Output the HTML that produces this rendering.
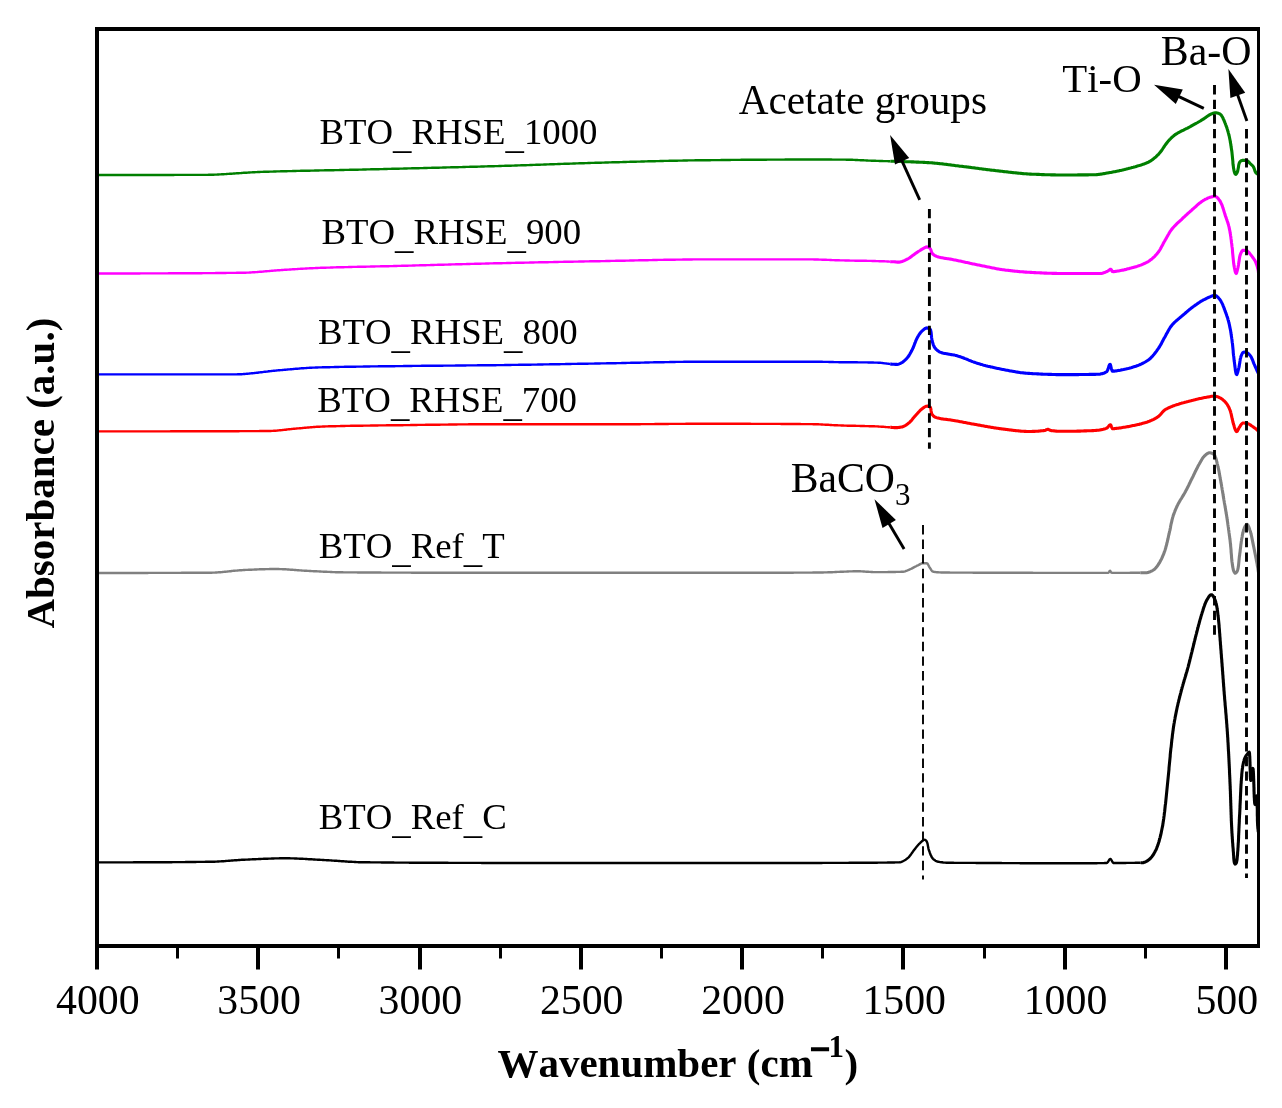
<!DOCTYPE html>
<html lang="en">
<head>
<meta charset="utf-8">
<title>FTIR absorbance spectra</title>
<style>
html,body{margin:0;padding:0;background:#fff}
body{width:1282px;height:1108px;overflow:hidden}
svg{display:block}
</style>
</head>
<body>
<svg width="1282" height="1108" viewBox="0 0 1282 1108" role="img" aria-label="FTIR absorbance spectra of BTO samples">
<rect width="1282" height="1108" fill="#fff"/>
<g fill="none" stroke-linejoin="round" stroke-linecap="butt">
<path d="M98.6 862.4L99.6 862.4L100.6 862.4L101.6 862.4L102.6 862.4L103.6 862.4L104.6 862.4L105.6 862.4L106.6 862.4L107.6 862.4L108.6 862.4L109.6 862.4L110.6 862.4L111.6 862.4L112.6 862.4L113.6 862.4L114.6 862.4L115.6 862.4L116.6 862.4L117.6 862.4L118.6 862.4L119.6 862.4L120.6 862.4L121.6 862.4L122.6 862.4L123.6 862.4L124.6 862.4L125.6 862.4L126.6 862.4L127.7 862.4L128.7 862.4L129.7 862.4L130.7 862.4L131.7 862.4L132.7 862.4L133.7 862.3L134.7 862.3L135.7 862.3L136.7 862.3L137.7 862.3L138.7 862.3L139.7 862.3L140.7 862.3L141.7 862.3L142.7 862.3L143.7 862.3L144.7 862.3L145.7 862.3L146.7 862.3L147.7 862.3L148.7 862.3L149.7 862.3L150.7 862.3L151.7 862.3L152.7 862.3L153.7 862.3L154.7 862.3L155.7 862.3L156.7 862.2L157.7 862.2L158.7 862.2L159.7 862.2L160.7 862.2L161.7 862.2L162.7 862.2L163.7 862.2L164.7 862.2L165.7 862.2L166.7 862.2L167.7 862.2L168.7 862.2L169.7 862.2L170.7 862.2L171.7 862.2L172.7 862.1L173.7 862.1L174.7 862.1L175.7 862.1L176.7 862.1L177.7 862.1L178.7 862.1L179.7 862.1L180.7 862.1L181.7 862.1L182.7 862.1L183.7 862.1L184.7 862.1L185.7 862.0L186.7 862.0L187.7 862.0L188.7 862.0L189.7 862.0L190.7 862.0L191.7 862.0L192.7 862.0L193.7 862.0L194.7 862.0L195.7 862.0L196.7 861.9L197.7 861.9L198.7 861.9L199.7 861.9L200.7 861.9L201.7 861.9L202.7 861.9L203.7 861.9L204.7 861.9L205.7 861.8L206.7 861.8L207.7 861.8L208.7 861.8L209.7 861.8L210.7 861.8L211.7 861.8L212.7 861.7L213.7 861.7L214.7 861.7L215.7 861.6L216.7 861.6L217.7 861.5L218.7 861.5L219.7 861.4L220.7 861.4L221.7 861.3L222.7 861.2L223.7 861.2L224.7 861.1L225.7 861.0L226.7 860.9L227.7 860.9L228.7 860.8L229.7 860.7L230.7 860.6L231.7 860.5L232.7 860.5L233.7 860.4L234.7 860.3L235.7 860.2L236.7 860.2L237.7 860.1L238.7 860.0L239.7 860.0L240.7 859.9L241.7 859.8L242.7 859.8L243.7 859.7L244.7 859.7L245.7 859.6L246.6 859.6L247.6 859.6L248.6 859.5L249.6 859.5L250.6 859.4L251.6 859.4L252.6 859.3L253.6 859.3L254.6 859.2L255.6 859.2L256.7 859.1L257.7 859.1L258.7 859.0L259.7 859.0L260.7 859.0L261.7 858.9L262.7 858.9L263.7 858.8L264.7 858.8L265.7 858.7L266.7 858.7L267.7 858.7L268.7 858.6L269.7 858.6L270.7 858.6L271.7 858.5L272.7 858.5L273.7 858.5L274.7 858.4L275.7 858.4L276.7 858.4L277.7 858.4L278.7 858.4L279.7 858.3L280.7 858.3L281.7 858.3L282.7 858.3L283.7 858.3L284.7 858.3L285.7 858.3L286.7 858.3L287.7 858.3L288.7 858.3L289.7 858.3L290.7 858.4L291.7 858.4L292.7 858.4L293.7 858.4L294.7 858.5L295.7 858.5L296.7 858.5L297.7 858.6L298.7 858.6L299.7 858.7L300.7 858.7L301.7 858.8L302.7 858.8L303.7 858.9L304.7 858.9L305.7 859.0L306.7 859.0L307.7 859.1L308.7 859.2L309.7 859.2L310.7 859.3L311.7 859.3L312.7 859.4L313.7 859.5L314.7 859.5L315.7 859.6L316.7 859.6L317.7 859.7L318.7 859.7L319.7 859.8L320.7 859.9L321.7 859.9L322.7 860.0L323.7 860.0L324.7 860.1L325.7 860.1L326.7 860.2L327.6 860.2L328.6 860.3L329.6 860.4L330.6 860.4L331.6 860.5L332.6 860.6L333.6 860.6L334.6 860.7L335.6 860.8L336.6 860.8L337.6 860.9L338.6 861.0L339.6 861.0L340.6 861.1L341.6 861.2L342.6 861.3L343.6 861.3L344.6 861.4L345.6 861.5L346.6 861.5L347.6 861.6L348.6 861.7L349.6 861.7L350.6 861.8L351.6 861.8L352.6 861.9L353.6 861.9L354.6 862.0L355.6 862.0L356.6 862.1L357.6 862.1L358.6 862.2L359.6 862.2L360.6 862.2L361.6 862.3L362.6 862.3L363.6 862.3L364.6 862.3L365.6 862.3L366.6 862.3L367.6 862.3L368.6 862.3L369.6 862.3L370.6 862.4L371.6 862.4L372.6 862.4L373.6 862.4L374.6 862.4L375.6 862.4L376.6 862.4L377.6 862.4L378.6 862.4L379.6 862.4L380.6 862.4L381.6 862.5L382.6 862.5L383.6 862.5L384.6 862.5L385.6 862.5L386.6 862.5L387.6 862.5L388.6 862.5L389.6 862.5L390.6 862.5L391.6 862.5L392.6 862.5L393.6 862.5L394.6 862.6L395.6 862.6L396.6 862.6L397.6 862.6L398.6 862.6L399.6 862.6L400.6 862.6L401.6 862.6L402.6 862.6L403.6 862.6L404.6 862.6L405.6 862.6L406.6 862.6L407.6 862.6L408.6 862.6L409.6 862.7L410.6 862.7L411.6 862.7L412.6 862.7L413.6 862.7L414.6 862.7L415.6 862.7L416.6 862.7L417.6 862.7L418.6 862.7L419.6 862.7L420.6 862.7L421.6 862.7L422.6 862.7L423.6 862.7L424.6 862.7L425.6 862.7L426.6 862.8L427.6 862.8L428.6 862.8L429.6 862.8L430.7 862.8L431.7 862.8L432.7 862.8L433.7 862.8L434.7 862.8L435.7 862.8L436.7 862.8L437.7 862.8L438.7 862.8L439.7 862.8L440.7 862.8L441.7 862.8L442.7 862.8L443.7 862.8L444.7 862.8L445.7 862.8L446.7 862.8L447.7 862.8L448.7 862.9L449.7 862.9L450.7 862.9L451.7 862.9L452.7 862.9L453.7 862.9L454.7 862.9L455.7 862.9L456.7 862.9L457.7 862.9L458.7 862.9L459.7 862.9L460.7 862.9L461.7 862.9L462.7 862.9L463.7 862.9L464.7 862.9L465.7 862.9L466.7 862.9L467.7 862.9L468.7 862.9L469.7 862.9L470.7 862.9L471.7 862.9L472.7 862.9L473.7 862.9L474.7 862.9L475.7 862.9L476.7 862.9L477.7 862.9L478.7 862.9L479.7 862.9L480.7 862.9L481.7 863.0L482.7 863.0L483.7 863.0L484.7 863.0L485.7 863.0L486.7 863.0L487.7 863.0L488.7 863.0L489.7 863.0L490.7 863.0L491.7 863.0L492.7 863.0L493.7 863.0L494.7 863.0L495.7 863.0L496.7 863.0L497.7 863.0L498.7 863.0L499.7 863.0L500.7 863.0L501.7 863.0L502.7 863.0L503.7 863.0L504.7 863.0L505.7 863.0L506.7 863.0L507.7 863.0L508.7 863.0L509.7 863.0L510.7 863.0L511.7 863.0L512.7 863.0L513.7 863.0L514.7 863.0L515.7 863.0L516.7 863.0L517.7 863.0L518.7 863.0L519.7 863.0L520.7 863.0L521.7 863.0L522.7 863.0L523.7 863.0L524.7 863.0L525.7 863.0L526.7 863.0L527.7 863.0L528.8 863.0L529.8 863.0L530.8 863.0L531.8 863.0L532.8 863.0L533.8 863.0L534.8 863.0L535.8 863.0L536.8 863.0L537.8 863.0L538.8 863.0L539.8 863.0L540.8 863.0L541.8 863.0L542.8 863.0L543.8 863.0L544.8 863.0L545.8 863.0L546.8 863.0L547.8 863.0L548.8 863.0L549.8 863.0L550.8 863.0L551.8 863.0L552.8 863.0L553.8 863.0L554.8 863.0L555.8 863.0L556.8 863.0L557.8 863.0L558.8 863.0L559.8 863.0L560.8 863.0L561.8 863.0L562.8 863.0L563.8 863.0L564.8 863.0L565.8 863.0L566.8 863.0L567.8 863.0L568.8 863.0L569.8 863.0L570.8 863.0L571.8 863.0L572.8 863.0L573.8 863.0L574.8 863.0L575.8 863.0L576.8 863.0L577.8 863.0L578.8 863.0L579.8 863.0L580.8 863.0L581.8 863.0L582.8 863.0L583.8 863.0L584.8 863.0L585.8 863.0L586.8 863.0L587.8 863.0L588.8 863.0L589.8 863.0L590.8 863.0L591.8 863.0L592.8 863.0L593.8 863.0L594.8 863.0L595.8 863.0L596.8 863.0L597.8 863.0L598.8 863.0L599.8 863.0L600.8 863.0L601.8 863.0L602.8 863.0L603.8 863.0L604.8 863.0L605.8 863.0L606.8 863.0L607.8 863.0L608.8 863.0L609.8 863.0L610.8 863.0L611.8 863.0L612.8 863.0L613.8 863.0L614.8 863.0L615.8 863.0L616.8 863.0L617.8 863.0L618.8 863.0L619.8 863.0L620.8 863.0L621.8 863.0L622.8 863.0L623.8 863.0L624.8 863.0L625.8 863.0L626.8 863.0L627.8 863.0L628.8 863.0L629.8 863.0L630.8 863.0L631.8 863.0L632.8 863.0L633.8 863.0L634.8 863.0L635.8 863.0L636.8 863.0L637.8 863.0L638.8 863.0L639.8 863.0L640.8 863.0L641.8 863.0L642.8 863.0L643.8 863.0L644.8 863.0L645.8 863.0L646.8 863.0L647.8 863.0L648.8 863.0L649.8 863.0L650.8 863.0L651.8 863.0L652.8 863.0L653.9 863.0L654.9 863.0L655.9 863.0L656.9 863.0L657.9 863.0L658.9 863.0L659.9 863.0L660.9 863.0L661.9 863.0L662.9 863.0L663.9 863.0L664.9 863.0L665.9 863.0L666.9 863.0L667.9 863.0L668.9 863.0L669.9 863.0L670.9 863.0L671.9 863.0L672.9 863.0L673.9 863.0L674.9 863.0L675.9 863.0L676.9 863.0L677.9 863.0L678.9 863.0L679.9 863.0L680.9 863.0L681.9 863.0L682.9 863.0L683.9 863.0L684.9 863.0L685.9 863.0L686.9 863.0L687.9 863.0L688.9 863.0L689.9 863.0L690.9 863.0L691.9 863.0L692.9 863.0L693.9 863.0L694.9 863.0L695.9 863.0L696.9 863.0L697.9 863.0L698.9 863.0L699.9 863.0L700.9 863.0L701.9 863.0L702.9 863.0L703.9 863.0L704.9 863.0L705.9 863.0L706.9 863.0L707.9 863.0L708.9 863.0L709.9 863.0L710.9 863.0L711.9 863.0L712.9 863.0L713.9 863.0L714.9 863.0L715.9 863.0L716.9 863.0L717.9 863.0L718.9 863.0L719.9 863.0L720.9 863.0L721.9 863.0L722.9 863.0L723.9 863.0L724.9 863.0L725.9 863.0L726.9 863.0L727.9 863.0L728.9 863.0L729.9 863.0L730.9 863.0L731.9 863.0L732.9 863.0L733.9 863.0L734.9 863.0L735.9 863.0L736.9 863.0L737.9 863.0L738.9 863.0L739.9 863.0L740.9 863.0L741.9 863.0L742.9 863.0L743.9 863.0L744.9 863.0L745.9 863.0L746.9 863.0L747.9 863.0L748.9 863.0L749.9 863.0L750.9 863.0L751.9 863.0L752.9 863.0L753.9 863.0L754.9 863.0L755.9 863.0L756.9 863.0L757.9 863.0L758.9 863.0L759.9 863.0L760.9 863.0L761.9 863.0L762.9 863.0L763.9 863.0L764.9 863.0L765.9 863.0L766.9 863.0L767.9 863.0L768.9 863.0L769.9 863.0L770.9 863.0L771.9 863.0L772.9 863.0L773.9 863.0L775.0 863.0L776.0 863.0L777.0 863.0L778.0 863.0L779.0 863.0L780.0 863.0L781.0 863.0L782.0 863.0L783.0 863.0L784.0 863.0L785.0 863.0L786.0 863.0L787.1 863.0L788.1 863.0L789.1 863.0L790.1 863.0L791.1 863.0L792.1 863.0L793.2 863.0L794.2 863.0L795.2 863.0L796.2 863.0L797.2 863.0L798.3 863.0L799.3 863.0L800.3 863.0L801.3 863.0L802.3 863.0L803.4 863.0L804.4 863.0L805.4 863.0L806.4 863.0L807.4 863.0L808.5 863.0L809.5 863.0L810.5 863.0L811.5 863.0L812.6 863.0L813.6 863.0L814.6 863.0L815.6 863.0L816.7 863.0L817.7 863.0L818.7 863.0L819.7 863.0L820.7 863.0L821.8 863.0L822.8 862.9L823.8 862.9L824.8 862.9L825.9 862.9L826.9 862.9L827.9 862.9L828.9 862.9L829.9 862.9L831.0 862.9L832.0 862.9L833.0 862.9L834.0 862.9L835.0 862.9L836.1 862.9L837.1 862.9L838.1 862.9L839.1 862.9L840.1 862.9L841.1 862.9L842.2 862.9L843.2 862.9L844.2 862.9L845.2 862.9L846.2 862.9L847.2 862.9L848.2 862.9L849.2 862.8L850.2 862.8L851.3 862.8L852.3 862.8L853.3 862.8L854.3 862.8L855.3 862.8L856.3 862.8L857.3 862.8L858.3 862.8L859.3 862.8L860.3 862.8L861.3 862.8L862.3 862.8L863.3 862.8L864.3 862.8L865.3 862.8L866.3 862.7L867.2 862.7L868.2 862.7L869.2 862.7L870.2 862.7L871.2 862.7L872.2 862.7L873.2 862.7L874.1 862.7L875.1 862.7L876.1 862.7L877.1 862.7L878.0 862.6L879.0 862.6L880.0 862.6L881.0 862.6L881.9 862.6L882.9 862.6L883.9 862.6L884.8 862.6L885.8 862.6L886.7 862.6L887.7 862.5L888.7 862.5L889.6 862.5L890.6 862.5L891.5 862.5L892.5 862.5L893.4 862.5L894.4 862.5L895.3 862.4L896.2 862.4L897.2 862.4L898.1 862.4L899.0 862.4L900.0 862.3L900.9 862.1L901.9 861.7L902.8 861.3L903.8 860.8L904.7 860.3L905.6 859.7L906.4 859.1L907.2 858.5L907.9 857.9L908.6 857.3L909.3 856.6L909.9 855.8L910.5 855.0L911.1 854.2L911.7 853.3L912.3 852.5L912.9 851.6L913.5 850.8L914.1 850.0L914.7 849.2L915.4 848.4L916.0 847.6L916.6 846.8L917.3 846.0L917.9 845.3L918.6 844.5L919.2 843.8L920.0 843.1L920.7 842.4L921.5 841.7L922.3 841.0L923.2 840.3L924.0 839.9L924.9 839.8L925.8 840.3L926.5 841.1L926.9 841.8L927.2 842.7L927.5 843.6L927.7 844.6L927.9 845.7L928.1 846.7L928.3 847.8L928.5 848.8L928.8 849.8L929.1 850.8L929.5 851.7L929.8 852.7L930.2 853.7L930.5 854.7L931.0 855.6L931.4 856.5L931.9 857.3L932.4 858.1L933.0 858.8L933.8 859.5L934.6 860.1L935.5 860.7L936.4 861.2L937.3 861.5L938.3 861.7L939.2 861.9L940.2 862.1L941.1 862.2L942.1 862.3L943.2 862.5L944.2 862.6L945.2 862.6L946.2 862.7L947.2 862.8L948.3 862.8L949.3 862.8L950.3 862.8L951.3 862.8L952.3 862.8L953.3 862.8L954.3 862.9L955.3 862.9L956.2 862.9L957.2 862.9L958.2 862.9L959.2 862.9L960.2 862.9L961.2 862.9L962.2 862.9L963.3 862.9L964.3 862.9L965.3 862.9L966.3 862.9L967.3 862.9L968.3 862.9L969.3 862.9L970.3 862.9L971.3 862.9L972.3 862.9L973.3 862.9L974.3 862.9L975.3 862.9L976.3 863.0L977.3 863.0L978.3 863.0L979.3 863.0L980.3 863.0L981.3 863.0L982.3 863.0L983.3 863.0L984.3 863.0L985.3 863.0L986.3 863.0L987.3 863.0L988.3 863.0L989.3 863.0L990.3 863.0L991.3 863.0L992.3 863.0L993.3 863.0L994.3 863.0L995.3 863.0L996.3 863.0L997.3 863.0L998.3 863.0L999.3 863.0L1000.3 863.0L1001.3 863.0L1002.3 863.1L1003.3 863.1L1004.3 863.1L1005.3 863.1L1006.3 863.1L1007.3 863.1L1008.3 863.1L1009.3 863.1L1010.3 863.1L1011.3 863.1L1012.3 863.1L1013.3 863.1L1014.3 863.1L1015.3 863.1L1016.3 863.1L1017.3 863.1L1018.3 863.1L1019.3 863.1L1020.3 863.2L1021.3 863.2L1022.3 863.2L1023.3 863.2L1024.3 863.2L1025.3 863.2L1026.3 863.2L1027.3 863.2L1028.3 863.2L1029.3 863.2L1030.3 863.2L1031.3 863.2L1032.3 863.2L1033.3 863.2L1034.3 863.2L1035.3 863.2L1036.3 863.2L1037.3 863.2L1038.3 863.2L1039.3 863.2L1040.3 863.3L1041.3 863.3L1042.3 863.3L1043.3 863.3L1044.3 863.3L1045.3 863.3L1046.3 863.3L1047.3 863.3L1048.3 863.3L1049.3 863.3L1050.3 863.3L1051.3 863.3L1052.3 863.3L1053.3 863.3L1054.3 863.3L1055.3 863.3L1056.3 863.3L1057.3 863.3L1058.3 863.3L1059.3 863.3L1060.3 863.3L1061.3 863.3L1062.4 863.3L1063.4 863.3L1064.4 863.3L1065.4 863.3L1066.4 863.3L1067.5 863.3L1068.5 863.3L1069.6 863.3L1070.6 863.3L1071.7 863.3L1072.8 863.3L1073.9 863.3L1074.9 863.3L1076.0 863.3L1077.1 863.3L1078.2 863.3L1079.2 863.3L1080.3 863.3L1081.4 863.3L1082.5 863.3L1083.5 863.3L1084.6 863.3L1085.6 863.2L1086.7 863.2L1087.8 863.2L1088.8 863.2L1089.8 863.2L1090.9 863.2L1091.9 863.2L1092.9 863.2L1093.9 863.2L1094.9 863.2L1095.8 863.2L1096.8 863.2L1097.8 863.1L1098.7 863.1L1099.6 863.1L1100.5 863.1L1101.4 863.1L1102.3 863.1L1103.2 863.1L1104.0 863.1L1104.8 863.0L1105.6 863.0L1106.4 863.0L1107.2 862.8L1107.9 862.0L1108.6 860.9L1109.2 859.9L1109.9 859.1L1110.5 858.9L1111.1 859.5L1111.7 860.5L1112.3 861.7L1112.9 862.6L1113.5 863.0L1114.3 863.0L1115.1 863.0L1115.9 863.0L1116.7 863.0L1117.6 863.0L1118.5 863.0L1119.5 863.0L1120.5 863.0L1121.5 863.0L1122.5 863.0L1123.5 863.0L1124.6 863.0L1125.6 863.0L1126.7 862.9L1127.8 862.9L1128.9 862.9L1130.0 862.9L1131.1 862.9L1132.2 862.9L1133.3 862.9L1134.4 862.9L1135.5 862.8L1136.6 862.8L1137.6 862.8L1138.6 862.8L1139.7 862.8L1140.7 862.7" stroke="#000000" stroke-width="2.4"/>
<path d="M1140.7 862.7L1141.6 862.7L1142.6 862.7L1143.5 862.6L1144.5 862.3L1145.4 861.9L1146.4 861.4L1147.3 860.9L1148.1 860.3L1148.9 859.7L1149.7 859.1L1150.4 858.4L1151.0 857.7L1151.7 857.0L1152.3 856.1L1152.9 855.3L1153.5 854.4L1154.0 853.5L1154.5 852.6L1155.0 851.7L1155.4 850.8L1155.9 850.0L1156.3 849.1L1156.7 848.1L1157.0 847.2L1157.4 846.3L1157.7 845.3L1158.1 844.4L1158.4 843.4L1158.7 842.4L1159.0 841.5L1159.3 840.5L1159.5 839.5L1159.8 838.6L1160.1 837.6L1160.3 836.7L1160.5 835.7L1160.8 834.7L1161.0 833.7L1161.2 832.8L1161.4 831.8L1161.6 830.8L1161.8 829.8L1162.0 828.8L1162.2 827.8L1162.4 826.9L1162.6 825.9L1162.8 824.9L1162.9 823.9L1163.1 822.9L1163.2 821.9L1163.4 820.9L1163.5 819.9L1163.7 819.0L1163.8 818.0L1163.9 817.0L1164.1 816.0L1164.2 815.0L1164.3 814.0L1164.4 813.0L1164.6 812.0L1164.7 811.0L1164.8 810.0L1164.9 809.0L1165.0 808.0L1165.1 807.0L1165.2 806.0L1165.3 805.0L1165.5 804.0L1165.6 803.0L1165.7 802.1L1165.8 801.1L1165.9 800.1L1166.0 799.1L1166.1 798.1L1166.2 797.1L1166.3 796.1L1166.4 795.1L1166.5 794.1L1166.6 793.1L1166.7 792.1L1166.8 791.1L1166.9 790.1L1167.0 789.1L1167.1 788.1L1167.2 787.1L1167.3 786.1L1167.4 785.1L1167.5 784.1L1167.6 783.1L1167.7 782.1L1167.8 781.1L1167.9 780.1L1168.0 779.2L1168.1 778.2L1168.2 777.2L1168.3 776.2L1168.4 775.2L1168.5 774.2L1168.6 773.2L1168.7 772.2L1168.8 771.2L1168.9 770.2L1169.0 769.2L1169.0 768.2L1169.1 767.2L1169.2 766.2L1169.3 765.2L1169.4 764.2L1169.5 763.2L1169.6 762.2L1169.7 761.2L1169.8 760.2L1169.9 759.2L1170.0 758.2L1170.1 757.2L1170.2 756.2L1170.2 755.2L1170.3 754.2L1170.4 753.2L1170.5 752.2L1170.6 751.3L1170.7 750.3L1170.8 749.3L1170.9 748.3L1171.1 747.3L1171.2 746.3L1171.3 745.3L1171.4 744.3L1171.5 743.3L1171.6 742.3L1171.7 741.3L1171.8 740.3L1171.9 739.3L1172.1 738.3L1172.2 737.3L1172.3 736.3L1172.4 735.3L1172.5 734.3L1172.7 733.3L1172.8 732.4L1172.9 731.4L1173.1 730.4L1173.2 729.4L1173.3 728.4L1173.5 727.4L1173.6 726.4L1173.8 725.4L1173.9 724.4L1174.1 723.5L1174.3 722.5L1174.4 721.5L1174.6 720.5L1174.8 719.5L1175.0 718.5L1175.1 717.5L1175.3 716.6L1175.5 715.6L1175.7 714.6L1175.9 713.6L1176.1 712.6L1176.3 711.6L1176.5 710.7L1176.7 709.7L1176.9 708.7L1177.1 707.7L1177.3 706.7L1177.6 705.8L1177.8 704.8L1178.0 703.8L1178.2 702.8L1178.5 701.9L1178.7 700.9L1178.9 699.9L1179.2 699.0L1179.4 698.0L1179.7 697.0L1179.9 696.0L1180.2 695.1L1180.4 694.1L1180.7 693.1L1180.9 692.2L1181.2 691.2L1181.4 690.2L1181.7 689.3L1182.0 688.3L1182.2 687.3L1182.5 686.4L1182.8 685.4L1183.0 684.4L1183.3 683.5L1183.6 682.5L1183.9 681.6L1184.1 680.6L1184.4 679.6L1184.7 678.7L1185.0 677.7L1185.3 676.8L1185.6 675.8L1185.9 674.8L1186.1 673.9L1186.4 672.9L1186.7 672.0L1187.0 671.0L1187.3 670.0L1187.5 669.1L1187.8 668.1L1188.1 667.1L1188.3 666.2L1188.6 665.2L1188.8 664.2L1189.1 663.3L1189.3 662.3L1189.6 661.3L1189.8 660.4L1190.0 659.4L1190.3 658.4L1190.5 657.4L1190.8 656.5L1191.0 655.5L1191.2 654.5L1191.5 653.6L1191.7 652.6L1192.0 651.6L1192.2 650.6L1192.4 649.7L1192.7 648.7L1192.9 647.7L1193.2 646.8L1193.4 645.8L1193.6 644.8L1193.9 643.8L1194.1 642.9L1194.3 641.9L1194.6 640.9L1194.8 640.0L1195.1 639.0L1195.3 638.0L1195.5 637.0L1195.8 636.1L1196.0 635.1L1196.3 634.1L1196.5 633.2L1196.8 632.2L1197.0 631.2L1197.3 630.2L1197.5 629.3L1197.8 628.3L1198.0 627.3L1198.3 626.4L1198.5 625.4L1198.8 624.4L1199.1 623.5L1199.3 622.5L1199.6 621.5L1199.8 620.6L1200.1 619.6L1200.4 618.6L1200.7 617.7L1200.9 616.7L1201.2 615.8L1201.5 614.8L1201.8 613.9L1202.1 612.9L1202.4 611.9L1202.7 611.0L1203.0 610.0L1203.3 609.0L1203.6 608.0L1203.9 607.1L1204.3 606.1L1204.6 605.2L1205.0 604.2L1205.3 603.3L1205.7 602.4L1206.1 601.5L1206.6 600.6L1207.0 599.8L1207.5 598.9L1208.2 597.8L1208.8 596.8L1209.5 595.9L1210.2 595.2L1210.9 594.8L1211.5 594.7L1212.1 595.0L1212.8 595.7L1213.4 596.5L1214.0 597.6L1214.5 598.7L1215.0 599.8L1215.4 600.9L1215.7 601.8L1215.9 602.7L1216.2 603.7L1216.4 604.6L1216.6 605.6L1216.8 606.6L1217.0 607.6L1217.1 608.6L1217.3 609.6L1217.4 610.6L1217.6 611.6L1217.7 612.6L1217.8 613.6L1217.9 614.6L1218.0 615.6L1218.2 616.6L1218.3 617.6L1218.4 618.6L1218.5 619.6L1218.6 620.6L1218.7 621.6L1218.8 622.6L1218.9 623.6L1219.0 624.6L1219.1 625.6L1219.1 626.6L1219.2 627.6L1219.3 628.6L1219.4 629.6L1219.5 630.6L1219.5 631.6L1219.6 632.6L1219.7 633.6L1219.8 634.6L1219.8 635.6L1219.9 636.6L1220.0 637.6L1220.1 638.6L1220.1 639.6L1220.2 640.6L1220.3 641.6L1220.4 642.6L1220.4 643.6L1220.5 644.6L1220.6 645.5L1220.7 646.5L1220.7 647.5L1220.8 648.5L1220.9 649.5L1221.0 650.5L1221.1 651.5L1221.1 652.5L1221.2 653.5L1221.3 654.5L1221.4 655.5L1221.4 656.5L1221.5 657.5L1221.6 658.5L1221.7 659.5L1221.8 660.5L1221.8 661.5L1221.9 662.5L1222.0 663.5L1222.1 664.5L1222.1 665.5L1222.2 666.5L1222.3 667.5L1222.4 668.5L1222.4 669.5L1222.5 670.5L1222.6 671.5L1222.7 672.5L1222.7 673.5L1222.8 674.5L1222.9 675.5L1223.0 676.5L1223.0 677.5L1223.1 678.5L1223.2 679.5L1223.3 680.5L1223.3 681.5L1223.4 682.5L1223.5 683.5L1223.6 684.5L1223.6 685.5L1223.7 686.5L1223.8 687.5L1223.9 688.5L1223.9 689.5L1224.0 690.5L1224.1 691.5L1224.2 692.5L1224.2 693.4L1224.3 694.4L1224.4 695.4L1224.5 696.4L1224.6 697.4L1224.6 698.4L1224.7 699.4L1224.8 700.4L1224.9 701.4L1225.0 702.4L1225.1 703.4L1225.1 704.4L1225.2 705.4L1225.3 706.4L1225.4 707.4L1225.5 708.4L1225.6 709.4L1225.7 710.4L1225.7 711.4L1225.8 712.4L1225.9 713.4L1226.0 714.4L1226.1 715.4L1226.2 716.4L1226.2 717.4L1226.3 718.4L1226.4 719.4L1226.5 720.4L1226.6 721.4L1226.6 722.4L1226.7 723.4L1226.8 724.4L1226.9 725.4L1226.9 726.4L1227.0 727.4L1227.1 728.4L1227.2 729.4L1227.2 730.4L1227.3 731.4L1227.4 732.4L1227.4 733.4L1227.5 734.4L1227.6 735.4L1227.6 736.3L1227.7 737.3L1227.8 738.3L1227.8 739.3L1227.9 740.3L1227.9 741.3L1228.0 742.3L1228.1 743.3L1228.1 744.3L1228.2 745.3L1228.2 746.3L1228.3 747.3L1228.3 748.3L1228.4 749.3L1228.4 750.3L1228.5 751.3L1228.6 752.3L1228.6 753.3L1228.7 754.3L1228.7 755.3L1228.8 756.3L1228.8 757.3L1228.9 758.3L1228.9 759.3L1229.0 760.3L1229.0 761.3L1229.1 762.3L1229.1 763.3L1229.2 764.3L1229.2 765.3L1229.3 766.3L1229.3 767.3L1229.4 768.3L1229.4 769.3L1229.5 770.3L1229.5 771.3L1229.5 772.3L1229.6 773.3L1229.6 774.3L1229.7 775.3L1229.7 776.3L1229.8 777.3L1229.8 778.3L1229.9 779.3L1229.9 780.3L1229.9 781.3L1230.0 782.3L1230.0 783.3L1230.1 784.3L1230.1 785.3L1230.2 786.3L1230.2 787.3L1230.2 788.3L1230.3 789.3L1230.3 790.3L1230.4 791.3L1230.4 792.3L1230.4 793.3L1230.5 794.3L1230.5 795.3L1230.5 796.3L1230.6 797.3L1230.6 798.3L1230.6 799.3L1230.7 800.3L1230.7 801.3L1230.7 802.3L1230.8 803.3L1230.8 804.3L1230.8 805.3L1230.9 806.3L1230.9 807.3L1230.9 808.3L1231.0 809.3L1231.0 810.3L1231.0 811.3L1231.1 812.3L1231.1 813.3L1231.1 814.3L1231.2 815.3L1231.2 816.3L1231.2 817.3L1231.3 818.3L1231.3 819.3L1231.3 820.3L1231.4 821.3L1231.4 822.3L1231.5 823.3L1231.5 824.3L1231.6 825.3L1231.6 826.3L1231.7 827.3L1231.7 828.3L1231.8 829.3L1231.8 830.3L1231.9 831.3L1231.9 832.3L1232.0 833.3L1232.1 834.3L1232.1 835.3L1232.2 836.3L1232.3 837.3L1232.3 838.3L1232.4 839.3L1232.5 840.3L1232.5 841.3L1232.6 842.3L1232.7 843.3L1232.8 844.3L1232.8 845.3L1232.9 846.3L1233.0 847.3L1233.1 848.3L1233.2 849.3L1233.2 850.3L1233.3 851.3L1233.4 852.3L1233.5 853.3L1233.5 854.3L1233.6 855.4L1233.7 856.4L1233.7 857.4L1233.8 858.5L1233.9 859.5L1234.0 860.5L1234.1 861.4L1234.3 862.3L1234.5 863.2L1235.1 864.1L1235.8 863.8L1236.4 862.8L1236.6 861.9L1236.8 861.0L1237.0 860.0L1237.1 859.0L1237.2 857.9L1237.3 856.9L1237.4 855.9L1237.5 854.9L1237.6 853.9L1237.6 852.9L1237.7 851.9L1237.8 850.9L1237.9 849.9L1237.9 848.9L1238.0 847.9L1238.1 846.9L1238.1 845.9L1238.2 844.9L1238.2 843.9L1238.3 842.9L1238.4 841.9L1238.4 840.9L1238.5 839.9L1238.5 838.9L1238.6 837.9L1238.6 836.9L1238.6 835.9L1238.7 834.9L1238.7 833.9L1238.8 832.9L1238.8 831.9L1238.9 830.9L1238.9 829.9L1238.9 828.9L1239.0 827.9L1239.0 826.9L1239.1 825.9L1239.1 824.9L1239.2 823.9L1239.2 822.9L1239.3 821.9L1239.3 820.9L1239.3 819.9L1239.4 818.9L1239.4 817.9L1239.5 816.9L1239.5 815.9L1239.6 814.9L1239.7 813.9L1239.7 812.9L1239.8 811.9L1239.8 810.9L1239.9 809.9L1239.9 808.9L1240.0 807.9L1240.0 806.9L1240.0 805.9L1240.1 804.9L1240.1 803.9L1240.2 802.9L1240.2 801.9L1240.3 800.9L1240.3 799.9L1240.4 798.9L1240.4 797.9L1240.4 796.9L1240.5 795.9L1240.5 794.9L1240.6 793.9L1240.6 792.9L1240.7 791.9L1240.7 790.9L1240.8 789.9L1240.8 788.9L1240.9 787.9L1240.9 786.9L1241.0 785.9L1241.0 784.9L1241.1 783.9L1241.2 782.9L1241.2 781.9L1241.3 780.9L1241.4 779.9L1241.4 778.9L1241.5 777.9L1241.6 776.9L1241.7 775.9L1241.7 774.9L1241.8 773.9L1241.9 772.9L1242.0 771.9L1242.1 770.9L1242.2 770.0L1242.3 769.0L1242.5 768.0L1242.6 766.9L1242.8 765.9L1243.0 764.9L1243.2 763.9L1243.4 762.9L1243.6 761.9L1243.9 761.0L1244.2 760.0L1244.4 759.1L1244.8 758.2L1245.2 757.3L1245.8 756.2L1246.5 755.1L1247.3 754.1L1248.0 753.2L1248.6 752.5L1249.0 752.2L1249.2 752.1L1249.3 752.3L1249.4 752.7L1249.5 753.3L1249.6 754.0L1249.6 754.9L1249.7 755.9L1249.8 757.0L1249.8 758.2L1249.9 759.5L1249.9 760.9L1250.0 762.3L1250.0 763.8L1250.1 765.3L1250.1 766.8L1250.1 768.3L1250.2 769.7L1250.2 771.2L1250.2 772.6L1250.3 773.9L1250.3 775.1L1250.3 776.3L1250.4 777.3L1250.4 778.2L1250.5 779.0L1250.6 779.6L1250.6 780.1L1250.7 780.3L1250.8 780.4L1250.9 780.1L1251.1 779.4L1251.2 778.4L1251.4 777.1L1251.6 775.7L1251.8 774.3L1252.0 772.8L1252.2 771.4L1252.4 770.2L1252.5 769.3L1252.7 768.6L1252.8 768.4L1252.9 768.5L1253.0 768.7L1253.1 769.1L1253.2 769.6L1253.2 770.3L1253.3 771.1L1253.4 772.0L1253.4 772.9L1253.5 774.0L1253.5 775.2L1253.6 776.4L1253.6 777.7L1253.7 779.1L1253.7 780.5L1253.8 781.9L1253.8 783.4L1253.9 784.9L1253.9 786.4L1254.0 787.9L1254.0 789.4L1254.0 790.8L1254.1 792.3L1254.1 793.7L1254.2 795.0L1254.2 796.3L1254.3 797.6L1254.4 798.8L1254.4 799.8L1254.5 800.8L1254.6 801.7L1254.6 802.5L1254.7 803.2L1254.8 803.7L1254.9 804.1L1255.0 804.4L1255.1 804.5L1255.2 804.3L1255.4 803.5L1255.6 802.3L1255.9 800.9L1256.1 799.5L1256.4 798.1L1256.6 796.9L1256.7 796.1L1256.8 795.9L1256.9 796.0L1256.9 796.2L1256.9 796.5L1257.0 797.0L1257.0 797.5L1257.1 798.2L1257.1 799.0L1257.1 799.8L1257.1 800.7L1257.2 801.7L1257.2 802.8L1257.2 803.9L1257.2 805.1L1257.2 806.3L1257.2 807.6L1257.3 808.9L1257.3 810.2L1257.3 811.5L1257.3 812.8L1257.3 814.2L1257.3 815.5L1257.4 816.8L1257.4 818.1L1257.4 819.4L1257.4 820.6L1257.5 821.8L1257.5 822.9L1257.6 824.0L1257.6 825.0L1257.7 826.0L1257.8 827.0L1257.8 828.0L1258.0 829.0L1258.1 830.0L1258.2 831.0L1258.3 832.0" stroke="#000000" stroke-width="3.1"/>
<path d="M98.6 573.0L99.6 573.0L100.6 573.0L101.6 573.0L102.6 573.0L103.6 573.0L104.6 573.0L105.6 573.0L106.6 573.0L107.6 573.0L108.6 573.0L109.6 573.0L110.6 573.0L111.6 573.0L112.6 573.0L113.6 573.0L114.6 573.0L115.7 573.0L116.7 573.0L117.7 573.0L118.7 573.0L119.7 573.0L120.7 573.0L121.7 573.0L122.7 573.0L123.7 573.0L124.7 573.0L125.7 573.0L126.7 573.0L127.7 573.0L128.7 573.0L129.7 573.0L130.7 573.0L131.7 573.0L132.7 573.0L133.7 573.0L134.7 573.0L135.7 573.0L136.7 573.0L137.7 573.0L138.7 573.0L139.7 573.0L140.7 573.0L141.7 573.0L142.7 573.0L143.7 573.0L144.7 573.0L145.7 573.0L146.7 573.0L147.7 573.0L148.7 572.9L149.7 572.9L150.7 572.9L151.7 572.9L152.7 572.9L153.7 572.9L154.7 572.9L155.7 572.9L156.7 572.9L157.7 572.9L158.7 572.9L159.7 572.9L160.7 572.9L161.7 572.9L162.7 572.9L163.7 572.9L164.7 572.9L165.7 572.9L166.7 572.9L167.7 572.9L168.7 572.9L169.7 572.9L170.7 572.9L171.7 572.9L172.7 572.9L173.7 572.9L174.7 572.9L175.7 572.9L176.7 572.9L177.7 572.9L178.7 572.9L179.7 572.9L180.7 572.9L181.7 572.8L182.7 572.8L183.7 572.8L184.7 572.8L185.7 572.8L186.7 572.8L187.7 572.8L188.7 572.8L189.7 572.8L190.7 572.8L191.7 572.8L192.7 572.8L193.7 572.8L194.7 572.8L195.7 572.8L196.7 572.8L197.7 572.8L198.7 572.8L199.7 572.8L200.7 572.8L201.7 572.7L202.7 572.7L203.7 572.7L204.7 572.7L205.7 572.7L206.7 572.7L207.7 572.7L208.7 572.7L209.7 572.7L210.7 572.7L211.7 572.7L212.7 572.6L213.7 572.6L214.7 572.6L215.7 572.5L216.7 572.5L217.7 572.4L218.7 572.3L219.7 572.2L220.7 572.2L221.7 572.1L222.7 572.0L223.7 571.9L224.7 571.8L225.7 571.7L226.7 571.6L227.7 571.5L228.7 571.4L229.7 571.3L230.7 571.2L231.7 571.0L232.7 570.9L233.7 570.8L234.7 570.7L235.7 570.6L236.7 570.6L237.7 570.5L238.7 570.4L239.7 570.3L240.6 570.2L241.6 570.2L242.6 570.1L243.6 570.0L244.6 570.0L245.6 569.9L246.6 569.9L247.6 569.9L248.6 569.8L249.6 569.8L250.6 569.7L251.6 569.7L252.6 569.6L253.6 569.6L254.6 569.5L255.6 569.5L256.6 569.5L257.6 569.4L258.6 569.4L259.7 569.3L260.7 569.3L261.7 569.3L262.7 569.2L263.7 569.2L264.7 569.2L265.7 569.1L266.7 569.1L267.7 569.1L268.7 569.1L269.7 569.0L270.7 569.0L271.7 569.0L272.7 569.0L273.7 569.0L274.7 569.0L275.7 569.0L276.7 569.0L277.7 569.0L278.7 569.0L279.7 569.1L280.7 569.1L281.7 569.1L282.7 569.2L283.7 569.2L284.7 569.3L285.7 569.3L286.7 569.4L287.7 569.5L288.7 569.5L289.7 569.6L290.7 569.7L291.7 569.7L292.7 569.8L293.6 569.9L294.6 570.0L295.6 570.0L296.6 570.1L297.6 570.2L298.6 570.3L299.6 570.4L300.6 570.4L301.6 570.5L302.6 570.6L303.6 570.6L304.6 570.7L305.6 570.8L306.6 570.8L307.6 570.9L308.6 570.9L309.6 571.0L310.6 571.0L311.6 571.1L312.6 571.1L313.6 571.2L314.6 571.2L315.6 571.3L316.6 571.3L317.6 571.4L318.6 571.4L319.6 571.5L320.6 571.5L321.6 571.6L322.6 571.6L323.6 571.7L324.6 571.7L325.6 571.8L326.6 571.8L327.6 571.9L328.6 571.9L329.6 571.9L330.6 572.0L331.6 572.0L332.6 572.1L333.6 572.1L334.6 572.1L335.6 572.2L336.6 572.2L337.6 572.2L338.6 572.3L339.6 572.3L340.6 572.3L341.6 572.3L342.6 572.3L343.7 572.4L344.7 572.4L345.7 572.4L346.7 572.4L347.7 572.4L348.7 572.4L349.7 572.4L350.7 572.4L351.7 572.4L352.7 572.4L353.7 572.4L354.7 572.4L355.7 572.4L356.7 572.4L357.7 572.5L358.7 572.5L359.7 572.5L360.7 572.5L361.7 572.5L362.7 572.5L363.7 572.5L364.7 572.5L365.7 572.5L366.7 572.5L367.7 572.5L368.7 572.5L369.7 572.5L370.7 572.5L371.7 572.5L372.7 572.5L373.7 572.5L374.7 572.5L375.7 572.5L376.7 572.5L377.7 572.5L378.7 572.5L379.7 572.5L380.7 572.5L381.7 572.6L382.7 572.6L383.7 572.6L384.7 572.6L385.7 572.6L386.7 572.6L387.7 572.6L388.7 572.6L389.7 572.6L390.7 572.6L391.7 572.6L392.7 572.6L393.7 572.6L394.7 572.6L395.7 572.6L396.7 572.6L397.7 572.6L398.7 572.6L399.7 572.6L400.7 572.6L401.7 572.6L402.7 572.6L403.7 572.6L404.7 572.6L405.7 572.6L406.7 572.6L407.7 572.6L408.7 572.6L409.7 572.6L410.7 572.6L411.7 572.7L412.7 572.7L413.7 572.7L414.7 572.7L415.7 572.7L416.7 572.7L417.7 572.7L418.7 572.7L419.7 572.7L420.7 572.7L421.7 572.7L422.7 572.7L423.7 572.7L424.7 572.7L425.7 572.7L426.7 572.7L427.7 572.7L428.7 572.7L429.7 572.7L430.7 572.7L431.7 572.7L432.7 572.7L433.7 572.7L434.7 572.7L435.7 572.7L436.7 572.7L437.7 572.7L438.7 572.7L439.7 572.7L440.7 572.7L441.7 572.7L442.7 572.7L443.7 572.7L444.7 572.7L445.7 572.7L446.7 572.7L447.7 572.7L448.7 572.7L449.8 572.7L450.8 572.7L451.8 572.7L452.8 572.7L453.8 572.7L454.8 572.7L455.8 572.7L456.8 572.7L457.8 572.8L458.8 572.8L459.8 572.8L460.8 572.8L461.8 572.8L462.8 572.8L463.8 572.8L464.8 572.8L465.8 572.8L466.8 572.8L467.8 572.8L468.8 572.8L469.8 572.8L470.8 572.8L471.8 572.8L472.8 572.8L473.8 572.8L474.8 572.8L475.8 572.8L476.8 572.8L477.8 572.8L478.8 572.8L479.8 572.8L480.8 572.8L481.8 572.8L482.8 572.8L483.8 572.8L484.8 572.8L485.8 572.8L486.8 572.8L487.8 572.8L488.8 572.8L489.8 572.8L490.8 572.8L491.8 572.8L492.8 572.8L493.8 572.8L494.8 572.8L495.8 572.8L496.8 572.8L497.8 572.8L498.8 572.8L499.8 572.8L500.8 572.8L501.8 572.8L502.8 572.8L503.8 572.8L504.8 572.8L505.8 572.8L506.8 572.8L507.8 572.8L508.8 572.8L509.8 572.8L510.8 572.8L511.8 572.8L512.8 572.8L513.8 572.8L514.8 572.8L515.8 572.8L516.8 572.8L517.8 572.8L518.8 572.8L519.8 572.8L520.8 572.8L521.8 572.8L522.8 572.8L523.8 572.8L524.8 572.8L525.8 572.8L526.8 572.8L527.8 572.8L528.8 572.8L529.8 572.8L530.8 572.8L531.8 572.8L532.8 572.8L533.8 572.8L534.8 572.8L535.8 572.8L536.8 572.8L537.8 572.8L538.9 572.8L539.9 572.8L540.9 572.8L541.9 572.8L542.9 572.8L543.9 572.8L544.9 572.8L545.9 572.8L546.9 572.8L547.9 572.8L548.9 572.8L549.9 572.8L550.9 572.8L551.9 572.8L552.9 572.8L553.9 572.8L554.9 572.8L555.9 572.8L556.9 572.8L557.9 572.8L558.9 572.8L559.9 572.8L560.9 572.8L561.9 572.8L562.9 572.8L563.9 572.8L564.9 572.8L565.9 572.8L566.9 572.8L567.9 572.8L568.9 572.8L569.9 572.8L570.9 572.8L571.9 572.8L572.9 572.8L573.9 572.8L574.9 572.8L575.9 572.8L576.9 572.8L577.9 572.8L578.9 572.8L579.9 572.8L580.9 572.8L581.9 572.8L582.9 572.8L583.9 572.8L584.9 572.8L585.9 572.8L586.9 572.8L587.9 572.8L588.9 572.8L589.9 572.8L590.9 572.8L591.9 572.8L592.9 572.8L593.9 572.8L594.9 572.8L595.9 572.8L596.9 572.8L597.9 572.8L598.9 572.8L599.9 572.8L600.9 572.8L601.9 572.8L602.9 572.8L603.9 572.8L604.9 572.8L605.9 572.8L606.9 572.8L607.9 572.8L608.9 572.8L609.9 572.8L610.9 572.8L611.9 572.8L612.9 572.8L613.9 572.8L614.9 572.8L615.9 572.8L616.9 572.8L617.9 572.8L618.9 572.8L619.9 572.8L620.9 572.8L621.9 572.8L622.9 572.8L623.9 572.8L624.9 572.8L625.9 572.8L626.9 572.8L627.9 572.8L628.9 572.8L629.9 572.8L630.9 572.8L631.9 572.8L632.9 572.8L633.9 572.8L635.0 572.8L636.0 572.8L637.0 572.8L638.0 572.8L639.0 572.8L640.0 572.8L641.0 572.8L642.0 572.8L643.0 572.8L644.0 572.8L645.0 572.8L646.0 572.8L647.0 572.8L648.0 572.8L649.0 572.8L650.0 572.8L651.0 572.8L652.0 572.8L653.0 572.8L654.0 572.8L655.0 572.8L656.0 572.8L657.0 572.8L658.0 572.8L659.0 572.8L660.0 572.8L661.0 572.8L662.0 572.8L663.0 572.8L664.0 572.8L665.0 572.8L666.0 572.8L667.0 572.8L668.0 572.8L669.0 572.8L670.0 572.8L671.0 572.8L672.0 572.8L673.0 572.8L674.0 572.8L675.0 572.8L676.0 572.8L677.0 572.8L678.0 572.8L679.0 572.8L680.0 572.8L681.0 572.8L682.0 572.8L683.0 572.8L684.0 572.8L685.0 572.8L686.0 572.8L687.0 572.8L688.0 572.8L689.0 572.8L690.0 572.8L691.0 572.8L692.0 572.8L693.0 572.8L694.0 572.8L695.0 572.8L696.0 572.8L697.0 572.8L698.0 572.8L699.0 572.8L700.0 572.8L701.0 572.8L702.0 572.8L703.0 572.8L704.0 572.8L705.0 572.8L706.0 572.8L707.0 572.7L708.0 572.7L709.0 572.7L710.0 572.7L711.0 572.7L712.0 572.7L713.0 572.7L714.0 572.7L715.0 572.7L716.0 572.7L717.0 572.7L718.0 572.7L719.0 572.7L720.0 572.7L721.0 572.7L722.0 572.7L723.0 572.7L724.0 572.7L725.0 572.7L726.0 572.7L727.0 572.7L728.0 572.7L729.0 572.7L730.0 572.7L731.1 572.7L732.1 572.7L733.1 572.7L734.1 572.7L735.1 572.7L736.1 572.7L737.1 572.7L738.1 572.7L739.1 572.7L740.1 572.7L741.1 572.7L742.1 572.7L743.1 572.7L744.1 572.7L745.1 572.7L746.1 572.7L747.1 572.7L748.1 572.7L749.1 572.7L750.1 572.7L751.1 572.7L752.1 572.7L753.1 572.7L754.1 572.7L755.1 572.7L756.1 572.7L757.1 572.7L758.1 572.7L759.1 572.7L760.1 572.7L761.1 572.7L762.1 572.7L763.1 572.7L764.1 572.7L765.1 572.7L766.1 572.7L767.1 572.7L768.1 572.7L769.1 572.7L770.1 572.7L771.1 572.7L772.1 572.7L773.1 572.7L774.1 572.7L775.1 572.7L776.1 572.7L777.1 572.7L778.1 572.7L779.1 572.7L780.1 572.7L781.1 572.7L782.1 572.7L783.1 572.7L784.1 572.7L785.1 572.7L786.1 572.7L787.1 572.7L788.1 572.7L789.1 572.7L790.1 572.7L791.1 572.7L792.1 572.7L793.1 572.7L794.1 572.6L795.1 572.6L796.1 572.6L797.1 572.6L798.1 572.6L799.1 572.6L800.1 572.6L801.1 572.6L802.1 572.6L803.1 572.6L804.1 572.6L805.1 572.6L806.1 572.6L807.1 572.6L808.1 572.6L809.1 572.6L810.1 572.6L811.1 572.6L812.1 572.6L813.1 572.5L814.1 572.5L815.1 572.5L816.1 572.5L817.1 572.5L818.1 572.5L819.1 572.5L820.1 572.5L821.1 572.5L822.1 572.5L823.1 572.5L824.1 572.4L825.1 572.4L826.1 572.4L827.1 572.4L828.1 572.3L829.1 572.3L830.2 572.2L831.2 572.2L832.2 572.2L833.2 572.1L834.2 572.1L835.2 572.0L836.2 572.0L837.2 571.9L838.2 571.9L839.2 571.9L840.2 571.8L841.2 571.8L842.2 571.7L843.2 571.7L844.2 571.6L845.2 571.6L846.2 571.6L847.2 571.5L848.2 571.5L849.2 571.4L850.2 571.4L851.2 571.4L852.2 571.4L853.2 571.3L854.2 571.3L855.2 571.3L856.2 571.3L857.2 571.3L858.2 571.3L859.2 571.3L860.2 571.3L861.2 571.4L862.2 571.4L863.2 571.5L864.2 571.5L865.2 571.6L866.2 571.7L867.2 571.8L868.2 571.8L869.2 571.9L870.2 571.9L871.2 572.0L872.2 572.0L873.2 572.1L874.2 572.1L875.2 572.1L876.2 572.1L877.2 572.1L878.2 572.1L879.2 572.1L880.2 572.1L881.2 572.1L882.2 572.1L883.2 572.1L884.2 572.1L885.2 572.1L886.2 572.1L887.3 572.1L888.3 572.0L889.3 572.0L890.3 572.0L891.3 572.0L892.3 572.0L893.3 572.0L894.3 572.0L895.3 572.0L896.3 571.9L897.3 571.9L898.3 571.9L899.3 571.9L900.2 571.9L901.2 571.8L902.2 571.8L903.2 571.7L904.1 571.6L905.1 571.3L906.1 570.9L907.0 570.6L908.0 570.2L908.9 569.8L909.8 569.4L910.7 569.0L911.6 568.6L912.5 568.1L913.4 567.6L914.3 567.1L915.2 566.7L916.1 566.2L916.9 565.7L917.9 565.3L918.8 564.9L919.7 564.4L920.6 563.9L921.5 563.5L922.5 563.2L923.4 563.2L924.5 563.2L925.6 563.2L926.5 563.2L927.2 563.4L927.8 564.1L928.3 565.0L928.9 566.1L929.4 567.1L930.0 568.0L930.6 568.9L931.2 569.9L931.9 570.8L932.5 571.4L933.3 571.8L934.1 571.9L935.0 572.0L935.9 572.1L936.9 572.2L938.0 572.3L939.0 572.4L940.1 572.4L941.2 572.5L942.2 572.5L943.3 572.5L944.3 572.5L945.3 572.5L946.3 572.5L947.3 572.5L948.3 572.5L949.3 572.5L950.3 572.6L951.3 572.6L952.3 572.6L953.3 572.6L954.3 572.6L955.3 572.6L956.3 572.6L957.3 572.6L958.3 572.6L959.3 572.6L960.3 572.6L961.3 572.6L962.3 572.6L963.3 572.6L964.3 572.6L965.3 572.6L966.3 572.6L967.3 572.6L968.3 572.6L969.3 572.6L970.3 572.6L971.3 572.6L972.3 572.6L973.3 572.7L974.3 572.7L975.3 572.7L976.3 572.7L977.3 572.7L978.3 572.7L979.3 572.7L980.3 572.7L981.3 572.7L982.3 572.7L983.3 572.7L984.3 572.7L985.3 572.7L986.3 572.7L987.3 572.7L988.3 572.7L989.3 572.7L990.3 572.7L991.3 572.7L992.3 572.7L993.3 572.7L994.3 572.7L995.3 572.7L996.3 572.7L997.3 572.7L998.3 572.7L999.3 572.7L1000.3 572.7L1001.3 572.7L1002.3 572.7L1003.3 572.7L1004.3 572.7L1005.3 572.7L1006.3 572.8L1007.3 572.8L1008.3 572.8L1009.3 572.8L1010.3 572.8L1011.3 572.8L1012.3 572.8L1013.3 572.8L1014.3 572.8L1015.3 572.8L1016.3 572.8L1017.3 572.8L1018.3 572.8L1019.3 572.8L1020.3 572.8L1021.3 572.8L1022.3 572.8L1023.3 572.8L1024.4 572.8L1025.4 572.8L1026.4 572.8L1027.4 572.8L1028.4 572.8L1029.4 572.8L1030.4 572.8L1031.4 572.8L1032.4 572.8L1033.4 572.9L1034.4 572.9L1035.4 572.9L1036.4 572.9L1037.4 572.9L1038.4 572.9L1039.4 572.9L1040.4 572.9L1041.4 572.9L1042.4 572.9L1043.4 572.9L1044.4 572.9L1045.4 572.9L1046.4 572.9L1047.4 572.9L1048.4 572.9L1049.4 572.9L1050.4 572.9L1051.4 572.9L1052.4 572.9L1053.4 572.9L1054.4 572.9L1055.4 572.9L1056.4 572.9L1057.4 572.9L1058.4 572.9L1059.4 572.9L1060.4 572.9L1061.4 572.9L1062.4 572.9L1063.4 572.9L1064.4 572.9L1065.5 572.9L1066.5 572.9L1067.6 572.9L1068.6 572.9L1069.7 572.9L1070.8 572.9L1071.8 572.9L1072.9 572.9L1074.0 572.9L1075.1 572.9L1076.2 572.9L1077.3 572.9L1078.4 572.9L1079.5 572.9L1080.6 572.9L1081.7 572.9L1082.8 572.9L1083.9 572.9L1085.0 572.9L1086.0 572.9L1087.1 572.9L1088.2 572.9L1089.3 572.9L1090.3 572.9L1091.3 572.9L1092.4 572.9L1093.4 572.9L1094.4 572.9L1095.4 572.9L1096.4 572.9L1097.4 572.9L1098.3 572.9L1099.3 572.9L1100.2 572.9L1101.1 572.9L1102.0 572.9L1102.9 572.9L1103.7 572.9L1104.6 572.9L1105.4 572.9L1106.2 572.9L1106.9 572.9L1107.7 572.9L1108.4 572.9L1109.0 572.1L1109.6 571.0L1110.2 570.8L1110.8 571.7L1111.5 572.7L1112.2 572.9L1112.9 572.9L1113.7 572.9L1114.6 572.9L1115.4 572.9L1116.3 572.9L1117.2 572.9L1118.1 572.9L1119.1 572.9L1120.1 572.9L1121.0 572.9L1122.0 572.9L1123.1 572.9L1124.1 572.9L1125.2 572.9L1126.2 572.9L1127.3 572.9L1128.4 572.9L1129.4 572.9L1130.5 572.8L1131.6 572.8L1132.7 572.8L1133.8 572.8L1134.9 572.8L1136.0 572.8L1137.1 572.8L1138.1 572.8L1139.2 572.8L1140.3 572.8" stroke="#808080" stroke-width="2.4"/>
<path d="M1140.3 572.8L1141.3 572.8L1142.4 572.7L1143.4 572.7L1144.4 572.7L1145.4 572.7L1146.3 572.7L1147.3 572.6L1148.3 572.4L1149.3 572.0L1150.3 571.7L1151.3 571.2L1152.2 570.8L1153.0 570.3L1153.7 569.8L1154.5 569.2L1155.2 568.6L1155.9 567.8L1156.5 567.0L1157.2 566.2L1157.8 565.3L1158.4 564.4L1158.9 563.5L1159.5 562.7L1160.0 561.8L1160.4 561.0L1160.9 560.1L1161.4 559.2L1161.8 558.3L1162.2 557.4L1162.6 556.5L1163.0 555.5L1163.4 554.6L1163.8 553.7L1164.1 552.7L1164.4 551.8L1164.8 550.8L1165.1 549.9L1165.4 548.9L1165.7 548.0L1165.9 547.0L1166.2 546.0L1166.5 545.1L1166.7 544.1L1166.9 543.1L1167.2 542.2L1167.4 541.2L1167.6 540.2L1167.9 539.2L1168.1 538.2L1168.3 537.3L1168.5 536.3L1168.7 535.3L1169.0 534.3L1169.2 533.3L1169.4 532.4L1169.6 531.4L1169.9 530.4L1170.1 529.4L1170.3 528.4L1170.5 527.5L1170.6 526.5L1170.8 525.5L1171.0 524.5L1171.2 523.5L1171.5 522.5L1171.7 521.6L1171.9 520.6L1172.1 519.6L1172.4 518.7L1172.6 517.7L1172.9 516.8L1173.2 515.8L1173.5 514.8L1173.9 513.9L1174.2 513.0L1174.6 512.0L1174.9 511.1L1175.3 510.1L1175.7 509.2L1176.1 508.3L1176.5 507.4L1176.9 506.5L1177.3 505.6L1177.8 504.7L1178.2 503.8L1178.7 502.9L1179.2 502.1L1179.7 501.2L1180.2 500.3L1180.7 499.5L1181.3 498.6L1181.8 497.8L1182.3 496.9L1182.8 496.0L1183.4 495.2L1183.9 494.3L1184.4 493.5L1184.9 492.6L1185.4 491.7L1185.8 490.8L1186.3 489.9L1186.8 489.1L1187.2 488.2L1187.7 487.3L1188.1 486.4L1188.6 485.5L1189.0 484.6L1189.4 483.7L1189.9 482.8L1190.3 481.9L1190.7 481.0L1191.2 480.1L1191.6 479.2L1192.1 478.3L1192.5 477.4L1193.0 476.5L1193.4 475.6L1193.8 474.7L1194.3 473.8L1194.7 472.9L1195.1 472.0L1195.6 471.1L1196.0 470.2L1196.5 469.3L1196.9 468.4L1197.4 467.5L1197.8 466.6L1198.3 465.7L1198.8 464.8L1199.3 464.0L1199.8 463.1L1200.3 462.2L1200.8 461.3L1201.3 460.4L1201.8 459.5L1202.3 458.7L1202.9 457.8L1203.5 457.1L1204.1 456.4L1204.8 455.7L1205.6 455.0L1206.4 454.2L1207.3 453.6L1208.2 453.1L1209.1 452.8L1210.0 452.7L1211.0 452.9L1212.1 453.3L1213.0 453.8L1213.8 454.3L1214.3 454.8L1214.8 455.6L1215.2 456.4L1215.5 457.3L1215.9 458.3L1216.2 459.4L1216.5 460.5L1216.7 461.5L1217.0 462.6L1217.2 463.6L1217.5 464.6L1217.7 465.5L1217.9 466.5L1218.2 467.5L1218.4 468.5L1218.6 469.4L1218.8 470.4L1219.0 471.4L1219.2 472.4L1219.3 473.4L1219.5 474.4L1219.7 475.4L1219.9 476.4L1220.0 477.3L1220.2 478.3L1220.4 479.3L1220.6 480.3L1220.8 481.3L1220.9 482.3L1221.1 483.3L1221.3 484.2L1221.5 485.2L1221.6 486.2L1221.8 487.2L1222.0 488.2L1222.1 489.2L1222.3 490.2L1222.5 491.2L1222.6 492.1L1222.8 493.1L1223.0 494.1L1223.1 495.1L1223.3 496.1L1223.4 497.1L1223.6 498.1L1223.8 499.1L1223.9 500.0L1224.1 501.0L1224.3 502.0L1224.4 503.0L1224.6 504.0L1224.8 505.0L1225.0 506.0L1225.1 506.9L1225.3 507.9L1225.5 508.9L1225.6 509.9L1225.8 510.9L1226.0 511.9L1226.1 512.9L1226.3 513.9L1226.5 514.8L1226.6 515.8L1226.8 516.8L1226.9 517.8L1227.1 518.8L1227.2 519.8L1227.4 520.8L1227.5 521.8L1227.7 522.8L1227.8 523.8L1227.9 524.7L1228.1 525.7L1228.2 526.7L1228.4 527.7L1228.5 528.7L1228.6 529.7L1228.8 530.7L1228.9 531.7L1229.0 532.7L1229.2 533.7L1229.3 534.7L1229.4 535.7L1229.6 536.6L1229.7 537.6L1229.8 538.6L1230.0 539.6L1230.1 540.6L1230.2 541.6L1230.3 542.6L1230.4 543.6L1230.6 544.6L1230.6 545.6L1230.7 546.7L1230.8 547.7L1230.9 548.7L1231.0 549.7L1231.1 550.8L1231.1 551.8L1231.2 552.8L1231.3 553.9L1231.4 554.9L1231.5 555.9L1231.5 556.9L1231.6 558.0L1231.7 559.0L1231.8 560.0L1231.9 561.0L1232.0 562.0L1232.2 563.0L1232.3 563.9L1232.4 564.9L1232.6 565.9L1232.7 566.8L1232.9 567.8L1233.1 568.7L1233.3 569.6L1233.5 570.5L1233.9 571.5L1234.5 572.5L1235.1 573.2L1235.8 573.0L1236.6 572.2L1237.2 571.2L1237.5 570.3L1237.8 569.4L1238.0 568.5L1238.2 567.6L1238.3 566.6L1238.5 565.6L1238.6 564.6L1238.7 563.6L1238.8 562.6L1238.9 561.5L1239.0 560.5L1239.1 559.5L1239.2 558.4L1239.3 557.4L1239.4 556.4L1239.6 555.4L1239.7 554.4L1239.8 553.4L1240.0 552.4L1240.1 551.4L1240.2 550.4L1240.3 549.4L1240.5 548.4L1240.6 547.4L1240.7 546.4L1240.8 545.4L1240.9 544.4L1241.1 543.4L1241.2 542.4L1241.3 541.5L1241.5 540.5L1241.6 539.5L1241.8 538.5L1242.0 537.5L1242.2 536.5L1242.3 535.5L1242.5 534.5L1242.7 533.5L1243.0 532.5L1243.2 531.5L1243.5 530.5L1243.8 529.6L1244.1 528.6L1244.4 527.7L1244.8 526.9L1245.4 525.9L1246.1 525.0L1246.8 524.4L1247.3 524.4L1247.9 525.1L1248.4 526.1L1248.9 527.2L1249.3 528.3L1249.6 529.2L1249.9 530.2L1250.2 531.1L1250.5 532.1L1250.8 533.0L1251.0 534.0L1251.3 535.0L1251.5 536.0L1251.7 536.9L1251.9 537.9L1252.1 538.9L1252.3 539.9L1252.5 540.9L1252.7 541.9L1252.9 542.9L1253.1 543.9L1253.3 544.9L1253.5 545.8L1253.7 546.8L1253.9 547.8L1254.1 548.8L1254.3 549.8L1254.5 550.7L1254.7 551.7L1254.9 552.7L1255.1 553.7L1255.3 554.7L1255.5 555.6L1255.7 556.6L1255.9 557.6L1256.1 558.6L1256.3 559.6L1256.4 560.6L1256.6 561.5L1256.8 562.5L1257.0 563.5L1257.2 564.5L1257.3 565.5L1257.5 566.5L1257.7 567.5L1257.9 568.4L1258.0 569.4L1258.2 570.4L1258.3 571.4L1258.5 572.4" stroke="#808080" stroke-width="3.1"/>
<path d="M98.6 431.4L99.6 431.4L100.6 431.4L101.6 431.4L102.6 431.4L103.6 431.4L104.6 431.4L105.6 431.4L106.6 431.4L107.6 431.4L108.6 431.4L109.6 431.4L110.7 431.4L111.7 431.4L112.7 431.4L113.7 431.4L114.7 431.4L115.7 431.4L116.7 431.4L117.7 431.4L118.7 431.4L119.7 431.4L120.7 431.4L121.7 431.4L122.7 431.4L123.7 431.4L124.7 431.4L125.7 431.4L126.7 431.4L127.7 431.4L128.7 431.4L129.7 431.4L130.7 431.4L131.7 431.4L132.7 431.4L133.7 431.4L134.7 431.4L135.7 431.4L136.7 431.4L137.7 431.4L138.7 431.4L139.7 431.4L140.7 431.4L141.7 431.4L142.8 431.4L143.8 431.4L144.8 431.4L145.8 431.4L146.8 431.4L147.8 431.4L148.8 431.4L149.8 431.4L150.8 431.4L151.8 431.4L152.8 431.4L153.8 431.4L154.8 431.4L155.8 431.4L156.8 431.4L157.8 431.4L158.8 431.4L159.8 431.4L160.8 431.4L161.8 431.4L162.8 431.4L163.8 431.4L164.8 431.4L165.8 431.4L166.8 431.4L167.8 431.4L168.8 431.4L169.8 431.4L170.8 431.3L171.8 431.3L172.8 431.3L173.8 431.3L174.8 431.3L175.8 431.3L176.8 431.3L177.8 431.3L178.8 431.3L179.8 431.3L180.8 431.3L181.8 431.3L182.8 431.3L183.8 431.3L184.8 431.3L185.8 431.3L186.8 431.3L187.8 431.3L188.8 431.3L189.8 431.3L190.8 431.3L191.8 431.3L192.8 431.3L193.8 431.3L194.8 431.3L195.8 431.3L196.8 431.3L197.8 431.3L198.8 431.3L199.8 431.3L200.8 431.3L201.8 431.3L202.8 431.3L203.8 431.3L204.8 431.3L205.8 431.3L206.8 431.3L207.8 431.3L208.8 431.3L209.8 431.3L210.8 431.3L211.8 431.3L212.8 431.3L213.8 431.2L214.8 431.2L215.8 431.2L216.8 431.2L217.8 431.2L218.8 431.2L219.8 431.2L220.8 431.2L221.8 431.2L222.8 431.2L223.8 431.2L224.8 431.2L225.8 431.2L226.8 431.2L227.8 431.2L228.8 431.2L229.8 431.2L230.8 431.2L231.8 431.2L232.8 431.2L233.8 431.2L234.8 431.2L235.8 431.2L236.8 431.2L237.8 431.2L238.8 431.2L239.8 431.1L240.8 431.1L241.8 431.1L242.8 431.1L243.8 431.1L244.8 431.1L245.8 431.1L246.8 431.1L247.8 431.1L248.8 431.1L249.8 431.1L250.8 431.1L251.8 431.1L252.8 431.1L253.8 431.1L254.8 431.1L255.8 431.1L256.8 431.1L257.8 431.1L258.8 431.1L259.8 431.0L260.8 431.0L261.8 431.0L262.8 431.0L263.8 431.0L264.8 431.0L265.8 431.0L266.8 431.0L267.8 431.0L268.8 431.0L269.8 431.0L270.8 431.0L271.8 430.9L272.8 430.9L273.8 430.8L274.8 430.7L275.8 430.7L276.8 430.6L277.8 430.5L278.8 430.4L279.8 430.3L280.8 430.2L281.8 430.1L282.8 430.0L283.8 429.9L284.8 429.8L285.8 429.7L286.8 429.5L287.8 429.4L288.8 429.3L289.7 429.2L290.7 429.1L291.7 429.0L292.7 428.9L293.7 428.8L294.7 428.7L295.7 428.6L296.7 428.5L297.7 428.4L298.7 428.4L299.7 428.3L300.7 428.2L301.7 428.1L302.7 428.0L303.7 427.9L304.7 427.8L305.7 427.7L306.7 427.6L307.7 427.5L308.7 427.5L309.7 427.4L310.7 427.3L311.7 427.2L312.7 427.1L313.7 427.0L314.7 427.0L315.7 426.9L316.7 426.8L317.7 426.8L318.7 426.7L319.7 426.7L320.7 426.6L321.7 426.6L322.7 426.5L323.7 426.5L324.7 426.5L325.7 426.4L326.7 426.4L327.7 426.4L328.7 426.3L329.7 426.3L330.7 426.3L331.7 426.3L332.7 426.2L333.7 426.2L334.7 426.2L335.7 426.2L336.7 426.1L337.7 426.1L338.7 426.1L339.7 426.1L340.7 426.0L341.7 426.0L342.7 426.0L343.7 426.0L344.7 426.0L345.7 425.9L346.7 425.9L347.7 425.9L348.7 425.9L349.7 425.9L350.7 425.8L351.7 425.8L352.7 425.8L353.7 425.8L354.7 425.8L355.7 425.8L356.7 425.7L357.7 425.7L358.7 425.7L359.7 425.7L360.7 425.7L361.7 425.7L362.7 425.7L363.7 425.6L364.7 425.6L365.7 425.6L366.7 425.6L367.7 425.6L368.7 425.6L369.7 425.6L370.7 425.5L371.7 425.5L372.7 425.5L373.7 425.5L374.7 425.5L375.7 425.5L376.7 425.5L377.7 425.5L378.7 425.4L379.7 425.4L380.7 425.4L381.7 425.4L382.7 425.4L383.7 425.4L384.7 425.4L385.7 425.4L386.7 425.3L387.8 425.3L388.8 425.3L389.8 425.3L390.8 425.3L391.8 425.3L392.8 425.3L393.8 425.3L394.8 425.3L395.8 425.2L396.8 425.2L397.8 425.2L398.8 425.2L399.8 425.2L400.8 425.2L401.8 425.2L402.8 425.2L403.8 425.1L404.8 425.1L405.8 425.1L406.8 425.1L407.8 425.1L408.8 425.1L409.8 425.1L410.8 425.0L411.8 425.0L412.8 425.0L413.8 425.0L414.8 425.0L415.8 425.0L416.8 425.0L417.8 424.9L418.8 424.9L419.8 424.9L420.8 424.9L421.8 424.9L422.8 424.9L423.8 424.9L424.8 424.9L425.8 424.8L426.8 424.8L427.8 424.8L428.8 424.8L429.8 424.8L430.8 424.8L431.8 424.8L432.8 424.7L433.8 424.7L434.8 424.7L435.8 424.7L436.8 424.7L437.8 424.7L438.8 424.7L439.8 424.7L440.8 424.6L441.8 424.6L442.8 424.6L443.8 424.6L444.8 424.6L445.8 424.6L446.8 424.6L447.8 424.6L448.8 424.5L449.8 424.5L450.8 424.5L451.8 424.5L452.8 424.5L453.8 424.5L454.8 424.5L455.8 424.5L456.8 424.5L457.8 424.4L458.8 424.4L459.8 424.4L460.8 424.4L461.8 424.4L462.8 424.4L463.8 424.4L464.8 424.4L465.8 424.4L466.8 424.4L467.8 424.4L468.8 424.3L469.8 424.3L470.8 424.3L471.8 424.3L472.9 424.3L473.9 424.3L474.9 424.3L475.9 424.3L476.9 424.3L477.9 424.3L478.9 424.3L479.9 424.3L480.9 424.3L481.9 424.3L482.9 424.2L483.9 424.2L484.9 424.2L485.9 424.2L486.9 424.2L487.9 424.2L488.9 424.2L489.9 424.2L490.9 424.2L491.9 424.2L492.9 424.2L493.9 424.2L494.9 424.2L495.9 424.2L496.9 424.2L497.9 424.2L498.9 424.2L499.9 424.2L500.9 424.2L501.9 424.2L502.9 424.2L503.9 424.2L504.9 424.2L505.9 424.2L506.9 424.2L507.9 424.2L508.9 424.2L509.9 424.2L510.9 424.2L511.9 424.2L512.9 424.2L513.9 424.2L514.9 424.2L515.9 424.2L516.9 424.2L517.9 424.2L518.9 424.2L519.9 424.2L520.9 424.2L521.9 424.2L522.9 424.2L523.9 424.2L524.9 424.2L525.9 424.2L526.9 424.2L527.9 424.2L528.9 424.2L529.9 424.2L530.9 424.2L531.9 424.2L532.9 424.2L533.9 424.2L534.9 424.2L535.9 424.2L536.9 424.2L537.9 424.2L538.9 424.2L539.9 424.2L540.9 424.2L541.9 424.2L542.9 424.2L543.9 424.2L544.9 424.2L545.9 424.2L546.9 424.2L547.9 424.2L548.9 424.2L549.9 424.2L550.9 424.2L551.9 424.3L552.9 424.3L553.9 424.3L554.9 424.3L555.9 424.3L557.0 424.3L558.0 424.3L559.0 424.3L560.0 424.3L561.0 424.3L562.0 424.3L563.0 424.3L564.0 424.3L565.0 424.3L566.0 424.3L567.0 424.3L568.0 424.3L569.0 424.3L570.0 424.3L571.0 424.3L572.0 424.3L573.0 424.3L574.0 424.3L575.0 424.3L576.0 424.3L577.0 424.3L578.0 424.3L579.0 424.3L580.0 424.3L581.0 424.3L582.0 424.3L583.0 424.3L584.0 424.3L585.0 424.3L586.0 424.3L587.0 424.3L588.0 424.3L589.0 424.3L590.0 424.3L591.0 424.3L592.0 424.3L593.0 424.3L594.0 424.3L595.0 424.3L596.0 424.3L597.0 424.3L598.0 424.3L599.0 424.3L600.0 424.3L601.0 424.3L602.0 424.3L603.0 424.3L604.0 424.3L605.0 424.3L606.0 424.3L607.0 424.3L608.0 424.3L609.0 424.3L610.0 424.3L611.0 424.3L612.0 424.3L613.0 424.3L614.0 424.3L615.0 424.3L616.0 424.3L617.0 424.3L618.0 424.3L619.0 424.3L620.0 424.3L621.0 424.3L622.0 424.3L623.0 424.3L624.0 424.2L625.0 424.2L626.0 424.2L627.0 424.2L628.0 424.2L629.0 424.2L630.0 424.2L631.0 424.2L632.0 424.2L633.0 424.2L634.0 424.2L635.0 424.2L636.0 424.2L637.0 424.2L638.0 424.2L639.0 424.2L640.1 424.2L641.1 424.1L642.1 424.1L643.1 424.1L644.1 424.1L645.1 424.1L646.1 424.1L647.1 424.1L648.1 424.1L649.1 424.1L650.1 424.1L651.1 424.1L652.1 424.1L653.1 424.1L654.1 424.1L655.1 424.0L656.1 424.0L657.1 424.0L658.1 424.0L659.1 424.0L660.1 424.0L661.1 424.0L662.1 424.0L663.1 424.0L664.1 424.0L665.1 424.0L666.1 424.0L667.1 424.0L668.1 424.0L669.1 423.9L670.1 423.9L671.1 423.9L672.1 423.9L673.1 423.9L674.1 423.9L675.1 423.9L676.1 423.9L677.1 423.9L678.1 423.9L679.1 423.9L680.1 423.9L681.1 423.9L682.1 423.9L683.1 423.9L684.1 423.9L685.1 423.9L686.1 423.8L687.1 423.8L688.1 423.8L689.1 423.8L690.1 423.8L691.1 423.8L692.1 423.8L693.1 423.8L694.1 423.8L695.1 423.8L696.1 423.8L697.1 423.8L698.1 423.8L699.1 423.8L700.1 423.8L701.1 423.8L702.1 423.8L703.1 423.8L704.1 423.8L705.1 423.8L706.1 423.8L707.1 423.8L708.1 423.8L709.1 423.8L710.1 423.8L711.1 423.8L712.1 423.8L713.1 423.8L714.1 423.8L715.1 423.8L716.1 423.8L717.1 423.8L718.1 423.8L719.1 423.8L720.1 423.8L721.1 423.8L722.1 423.8L723.2 423.8L724.2 423.8L725.2 423.8L726.2 423.8L727.2 423.8L728.2 423.8L729.2 423.8L730.2 423.8L731.2 423.8L732.2 423.8L733.2 423.8L734.2 423.8L735.2 423.8L736.2 423.8L737.2 423.8L738.2 423.8L739.2 423.8L740.2 423.8L741.2 423.8L742.2 423.8L743.2 423.8L744.2 423.8L745.2 423.8L746.2 423.8L747.2 423.8L748.2 423.8L749.2 423.8L750.2 423.8L751.2 423.9L752.2 423.9L753.2 423.9L754.2 423.9L755.2 423.9L756.2 423.9L757.2 423.9L758.2 423.9L759.2 423.9L760.2 423.9L761.2 423.9L762.2 423.9L763.2 423.9L764.2 423.9L765.2 423.9L766.2 423.9L767.2 423.9L768.2 423.9L769.2 423.9L770.2 423.9L771.2 423.9L772.2 423.9L773.2 423.9L774.2 423.9L775.2 423.9L776.2 423.9L777.2 423.9L778.2 423.9L779.2 423.9L780.2 423.9L781.2 424.0L782.2 424.0L783.2 424.0L784.2 424.0L785.2 424.0L786.2 424.0L787.2 424.0L788.2 424.0L789.2 424.0L790.2 424.0L791.2 424.0L792.2 424.0L793.2 424.0L794.2 424.0L795.2 424.0L796.2 424.0L797.2 424.0L798.2 424.0L799.2 424.0L800.2 424.0L801.2 424.1L802.2 424.1L803.2 424.1L804.2 424.1L805.3 424.1L806.3 424.1L807.3 424.1L808.3 424.1L809.3 424.1L810.3 424.1L811.3 424.1L812.3 424.1L813.3 424.2L814.3 424.2L815.3 424.2L816.3 424.3L817.3 424.3L818.3 424.3L819.3 424.4L820.3 424.4L821.3 424.5L822.3 424.5L823.3 424.6L824.3 424.6L825.3 424.7L826.3 424.7L827.3 424.8L828.3 424.8L829.3 424.9L830.3 425.0L831.3 425.0L832.3 425.1L833.3 425.1L834.3 425.2L835.3 425.2L836.3 425.3L837.3 425.3L838.3 425.4L839.3 425.4L840.3 425.4L841.3 425.5L842.3 425.5L843.3 425.5L844.3 425.6L845.3 425.6L846.3 425.6L847.3 425.7L848.3 425.7L849.3 425.7L850.3 425.7L851.3 425.8L852.3 425.8L853.3 425.8L854.3 425.8L855.3 425.8L856.3 425.9L857.3 425.9L858.3 425.9L859.3 425.9L860.3 426.0L861.3 426.0L862.3 426.0L863.3 426.0L864.3 426.0L865.3 426.1L866.3 426.1L867.3 426.1L868.3 426.1L869.3 426.2L870.3 426.2L871.3 426.2L872.3 426.3L873.3 426.3L874.3 426.3L875.3 426.4L876.3 426.4L877.3 426.4L878.3 426.5L879.3 426.6L880.3 426.6L881.3 426.7L882.3 426.8L883.3 426.8L884.3 426.9L885.3 427.0L886.3 427.1L887.3 427.1L888.3 427.2L889.3 427.3L890.3 427.4" stroke="#ff0000" stroke-width="2.4"/>
<path d="M890.3 427.4L891.3 427.4L892.3 427.5L893.3 427.5L894.3 427.6L895.3 427.6L896.3 427.6L897.3 427.6L898.3 427.5L899.3 427.4L900.3 427.3L901.3 427.1L902.2 426.9L903.2 426.6L904.1 426.2L905.0 425.7L905.8 425.2L906.7 424.6L907.5 424.0L908.3 423.3L909.1 422.7L909.8 422.1L910.5 421.4L911.2 420.7L911.9 419.9L912.5 419.1L913.1 418.3L913.8 417.5L914.4 416.8L915.1 416.0L915.8 415.2L916.4 414.5L917.1 413.8L917.8 413.0L918.5 412.2L919.2 411.5L919.9 410.7L920.6 410.0L921.3 409.4L922.1 408.8L922.9 408.2L923.7 407.6L924.6 407.0L925.5 406.5L926.4 406.2L927.4 406.1L928.4 406.4L929.5 406.8L930.3 407.3L930.6 407.9L930.8 408.8L931.0 409.9L931.1 411.0L931.3 412.1L931.5 413.1L931.8 414.0L932.4 414.8L933.1 415.6L933.9 416.4L934.8 417.0L935.6 417.3L936.4 417.6L937.3 417.9L938.2 418.1L939.1 418.3L940.1 418.5L941.1 418.7L942.1 418.9L943.1 419.0L944.1 419.2L945.2 419.3L946.2 419.4L947.2 419.5L948.3 419.7L949.3 419.8L950.4 419.9L951.4 420.1L952.4 420.2L953.4 420.4L954.4 420.6L955.4 420.7L956.4 420.9L957.3 421.1L958.3 421.3L959.3 421.5L960.3 421.7L961.3 421.8L962.3 422.0L963.2 422.2L964.2 422.4L965.2 422.6L966.2 422.8L967.2 423.0L968.2 423.2L969.1 423.3L970.1 423.5L971.1 423.7L972.1 423.9L973.1 424.1L974.1 424.3L975.1 424.4L976.0 424.6L977.0 424.8L978.0 425.0L979.0 425.1L980.0 425.3L981.0 425.5L982.0 425.7L982.9 425.8L983.9 426.0L984.9 426.2L985.9 426.4L986.9 426.5L987.9 426.7L988.9 426.9L989.8 427.0L990.8 427.2L991.8 427.4L992.8 427.5L993.8 427.7L994.8 427.9L995.8 428.0L996.8 428.2L997.8 428.3L998.7 428.5L999.7 428.6L1000.7 428.8L1001.7 428.9L1002.7 429.0L1003.7 429.1L1004.7 429.3L1005.7 429.4L1006.7 429.5L1007.7 429.6L1008.7 429.7L1009.7 429.9L1010.7 430.0L1011.7 430.1L1012.7 430.2L1013.7 430.4L1014.6 430.5L1015.6 430.6L1016.6 430.7L1017.6 430.8L1018.6 430.9L1019.6 431.0L1020.6 431.1L1021.6 431.2L1022.6 431.3L1023.6 431.3L1024.6 431.4L1025.6 431.4L1026.6 431.5L1027.6 431.5L1028.6 431.5L1029.6 431.5L1030.6 431.5L1031.6 431.5L1032.6 431.4L1033.6 431.4L1034.7 431.4L1035.7 431.3L1036.7 431.3L1037.7 431.2L1038.7 431.1L1039.7 431.0L1040.7 430.9L1041.7 430.8L1042.7 430.7L1043.6 430.6L1044.6 430.5L1045.6 430.2L1046.5 429.7L1047.4 429.4L1048.4 429.4L1049.3 429.8L1050.2 430.3L1051.1 430.6L1052.1 430.7L1053.1 430.8L1054.1 430.9L1055.1 431.0L1056.1 431.1L1057.1 431.2L1058.1 431.2L1059.1 431.3L1060.1 431.3L1061.1 431.3L1062.1 431.3L1063.1 431.3L1064.1 431.3L1065.1 431.3L1066.1 431.3L1067.2 431.3L1068.2 431.3L1069.2 431.3L1070.2 431.3L1071.2 431.2L1072.2 431.2L1073.2 431.2L1074.2 431.2L1075.2 431.2L1076.2 431.2L1077.2 431.1L1078.2 431.1L1079.2 431.1L1080.2 431.1L1081.2 431.0L1082.2 431.0L1083.2 431.0L1084.2 430.9L1085.2 430.9L1086.2 430.9L1087.2 430.8L1088.2 430.8L1089.2 430.7L1090.2 430.7L1091.2 430.7L1092.2 430.6L1093.2 430.6L1094.2 430.5L1095.2 430.5L1096.2 430.4L1097.2 430.3L1098.2 430.2L1099.2 430.1L1100.2 429.9L1101.3 429.8L1102.3 429.5L1103.3 429.3L1104.2 429.0L1105.2 428.7L1106.1 428.4L1106.9 428.0L1107.7 427.4L1108.5 426.4L1109.2 425.5L1109.9 424.9L1110.5 424.7L1111.0 425.4L1111.4 426.6L1111.9 427.8L1112.4 428.6L1113.0 428.7L1113.7 428.7L1114.5 428.6L1115.3 428.5L1116.2 428.4L1117.2 428.3L1118.2 428.2L1119.2 428.0L1120.3 427.9L1121.4 427.7L1122.5 427.5L1123.6 427.3L1124.7 427.2L1125.8 427.0L1126.9 426.8L1128.0 426.6L1129.0 426.4L1130.1 426.2L1131.1 426.0L1132.0 425.8L1133.0 425.6L1134.0 425.4L1135.0 425.2L1136.0 425.0L1137.0 424.8L1138.0 424.6L1138.9 424.4L1139.9 424.1L1140.9 423.9L1141.9 423.6L1142.8 423.3L1143.8 423.1L1144.7 422.8L1145.7 422.5L1146.6 422.2L1147.6 421.9L1148.5 421.5L1149.4 421.2L1150.4 420.8L1151.3 420.4L1152.2 420.0L1153.2 419.6L1154.1 419.1L1155.0 418.6L1155.8 418.1L1156.7 417.6L1157.5 417.1L1158.3 416.5L1159.1 415.9L1159.8 415.2L1160.5 414.5L1161.1 413.7L1161.8 412.9L1162.5 412.1L1163.2 411.4L1163.9 410.7L1164.6 410.1L1165.4 409.5L1166.3 409.0L1167.1 408.6L1168.0 408.1L1168.9 407.7L1169.9 407.3L1170.8 406.9L1171.8 406.5L1172.7 406.1L1173.7 405.8L1174.6 405.4L1175.5 405.1L1176.5 404.8L1177.4 404.5L1178.4 404.2L1179.3 403.9L1180.3 403.6L1181.3 403.3L1182.2 403.0L1183.2 402.8L1184.2 402.5L1185.1 402.2L1186.1 402.0L1187.1 401.7L1188.0 401.5L1189.0 401.2L1190.0 401.0L1191.0 400.8L1191.9 400.5L1192.9 400.3L1193.9 400.0L1194.9 399.8L1195.8 399.5L1196.8 399.3L1197.8 399.1L1198.8 398.8L1199.7 398.6L1200.7 398.4L1201.7 398.2L1202.7 398.0L1203.6 397.8L1204.6 397.6L1205.6 397.4L1206.6 397.2L1207.6 397.0L1208.6 396.9L1209.6 396.7L1210.6 396.5L1211.6 396.3L1212.6 396.2L1213.6 396.1L1214.5 396.1L1215.5 396.2L1216.5 396.4L1217.5 396.7L1218.4 397.1L1219.3 397.5L1220.2 398.0L1221.1 398.4L1221.9 399.0L1222.7 399.6L1223.5 400.3L1224.3 401.0L1225.0 401.7L1225.7 402.5L1226.3 403.3L1226.9 404.0L1227.4 404.8L1227.9 405.7L1228.4 406.6L1228.9 407.5L1229.3 408.4L1229.7 409.4L1230.1 410.3L1230.4 411.2L1230.7 412.2L1230.9 413.1L1231.2 414.1L1231.4 415.1L1231.6 416.1L1231.8 417.1L1232.0 418.0L1232.2 419.0L1232.5 420.0L1232.7 421.0L1232.9 422.0L1233.2 423.0L1233.4 423.9L1233.8 424.9L1234.1 426.0L1234.4 427.2L1234.8 428.4L1235.2 429.5L1235.7 430.5L1236.1 431.2L1236.5 431.6L1237.0 431.5L1237.5 430.9L1238.0 429.9L1238.6 428.8L1239.1 427.7L1239.7 426.8L1240.3 425.9L1240.9 424.9L1241.6 424.0L1242.3 423.3L1243.0 423.0L1243.9 423.0L1244.9 423.1L1246.0 423.3L1247.0 423.4L1247.9 423.7L1248.8 424.0L1249.7 424.5L1250.6 425.1L1251.4 425.7L1252.3 426.3L1253.1 426.8L1253.9 427.4L1254.7 428.0L1255.5 428.6L1256.3 429.2L1257.0 429.9L1257.8 430.6L1258.5 431.3" stroke="#ff0000" stroke-width="3.1"/>
<path d="M98.6 374.4L99.6 374.4L100.6 374.4L101.6 374.4L102.6 374.4L103.6 374.4L104.6 374.4L105.6 374.4L106.6 374.4L107.6 374.4L108.6 374.4L109.6 374.4L110.6 374.4L111.7 374.4L112.7 374.4L113.7 374.4L114.7 374.4L115.7 374.4L116.7 374.4L117.7 374.4L118.7 374.4L119.7 374.4L120.7 374.4L121.7 374.4L122.7 374.4L123.7 374.4L124.7 374.4L125.7 374.4L126.7 374.4L127.7 374.4L128.7 374.4L129.7 374.4L130.7 374.4L131.7 374.4L132.7 374.4L133.7 374.4L134.7 374.4L135.7 374.4L136.7 374.4L137.7 374.4L138.7 374.4L139.7 374.4L140.7 374.4L141.7 374.4L142.7 374.4L143.7 374.4L144.7 374.4L145.7 374.4L146.7 374.4L147.7 374.4L148.7 374.4L149.8 374.4L150.8 374.4L151.8 374.4L152.8 374.4L153.8 374.4L154.8 374.4L155.8 374.4L156.8 374.4L157.8 374.4L158.8 374.4L159.8 374.4L160.8 374.4L161.8 374.4L162.8 374.4L163.8 374.4L164.8 374.4L165.8 374.4L166.8 374.4L167.8 374.4L168.8 374.4L169.8 374.4L170.8 374.4L171.8 374.4L172.8 374.4L173.8 374.4L174.8 374.4L175.8 374.4L176.8 374.4L177.8 374.4L178.8 374.4L179.8 374.4L180.8 374.4L181.8 374.4L182.8 374.4L183.8 374.4L184.8 374.4L185.8 374.4L186.8 374.4L187.8 374.4L188.8 374.4L189.8 374.4L190.8 374.4L191.8 374.4L192.8 374.4L193.8 374.4L194.8 374.4L195.8 374.4L196.8 374.4L197.8 374.4L198.8 374.4L199.8 374.4L200.8 374.4L201.8 374.4L202.8 374.4L203.8 374.4L204.8 374.4L205.8 374.4L206.8 374.4L207.8 374.4L208.8 374.4L209.8 374.4L210.8 374.4L211.8 374.4L212.8 374.4L213.8 374.4L214.8 374.4L215.8 374.4L216.8 374.4L217.8 374.4L218.8 374.4L219.8 374.4L220.8 374.4L221.8 374.4L222.8 374.4L223.8 374.4L224.8 374.4L225.8 374.4L226.8 374.4L227.8 374.4L228.8 374.4L229.8 374.4L230.8 374.4L231.8 374.4L232.8 374.4L233.8 374.4L234.8 374.4L235.8 374.4L236.8 374.4L237.8 374.3L238.7 374.3L239.7 374.3L240.7 374.2L241.7 374.2L242.7 374.1L243.7 374.0L244.7 374.0L245.7 373.9L246.7 373.8L247.7 373.7L248.7 373.6L249.7 373.5L250.7 373.4L251.7 373.3L252.7 373.2L253.7 373.1L254.7 373.0L255.7 372.9L256.7 372.8L257.7 372.7L258.7 372.5L259.7 372.4L260.7 372.3L261.7 372.2L262.7 372.1L263.7 371.9L264.7 371.8L265.7 371.7L266.7 371.6L267.7 371.5L268.7 371.3L269.6 371.2L270.6 371.1L271.6 371.0L272.6 370.9L273.6 370.8L274.6 370.7L275.6 370.6L276.6 370.5L277.6 370.4L278.6 370.3L279.6 370.2L280.6 370.1L281.6 370.1L282.6 370.0L283.6 369.9L284.6 369.8L285.6 369.7L286.6 369.6L287.6 369.5L288.6 369.4L289.6 369.4L290.6 369.3L291.6 369.2L292.6 369.1L293.6 369.0L294.6 368.9L295.6 368.8L296.6 368.7L297.6 368.7L298.6 368.6L299.6 368.5L300.6 368.4L301.6 368.3L302.6 368.3L303.6 368.2L304.6 368.1L305.6 368.1L306.6 368.0L307.6 367.9L308.6 367.9L309.6 367.8L310.6 367.7L311.6 367.7L312.6 367.6L313.6 367.6L314.6 367.6L315.6 367.5L316.6 367.5L317.6 367.5L318.6 367.4L319.6 367.4L320.6 367.4L321.6 367.4L322.6 367.3L323.6 367.3L324.6 367.3L325.6 367.2L326.6 367.2L327.6 367.2L328.6 367.2L329.6 367.2L330.6 367.1L331.6 367.1L332.6 367.1L333.6 367.1L334.6 367.0L335.6 367.0L336.6 367.0L337.6 367.0L338.6 367.0L339.6 366.9L340.6 366.9L341.6 366.9L342.6 366.9L343.6 366.9L344.6 366.8L345.6 366.8L346.6 366.8L347.6 366.8L348.6 366.8L349.6 366.7L350.6 366.7L351.6 366.7L352.6 366.7L353.6 366.7L354.6 366.7L355.6 366.7L356.6 366.6L357.6 366.6L358.6 366.6L359.6 366.6L360.6 366.6L361.6 366.6L362.6 366.6L363.6 366.5L364.6 366.5L365.6 366.5L366.6 366.5L367.6 366.5L368.6 366.5L369.6 366.5L370.6 366.4L371.6 366.4L372.6 366.4L373.6 366.4L374.6 366.4L375.6 366.4L376.6 366.4L377.6 366.4L378.6 366.3L379.6 366.3L380.6 366.3L381.6 366.3L382.6 366.3L383.6 366.3L384.6 366.3L385.6 366.3L386.6 366.2L387.6 366.2L388.6 366.2L389.6 366.2L390.6 366.2L391.6 366.2L392.6 366.2L393.6 366.2L394.6 366.2L395.6 366.1L396.6 366.1L397.6 366.1L398.6 366.1L399.6 366.1L400.6 366.1L401.6 366.1L402.6 366.1L403.7 366.0L404.7 366.0L405.7 366.0L406.7 366.0L407.7 366.0L408.7 366.0L409.7 366.0L410.7 366.0L411.7 366.0L412.7 365.9L413.7 365.9L414.7 365.9L415.7 365.9L416.7 365.9L417.7 365.9L418.7 365.9L419.7 365.9L420.7 365.9L421.7 365.8L422.7 365.8L423.7 365.8L424.7 365.8L425.7 365.8L426.7 365.8L427.7 365.8L428.7 365.8L429.7 365.8L430.7 365.8L431.7 365.8L432.7 365.7L433.7 365.7L434.7 365.7L435.7 365.7L436.7 365.7L437.7 365.7L438.7 365.7L439.7 365.7L440.7 365.7L441.7 365.7L442.7 365.7L443.7 365.6L444.7 365.6L445.7 365.6L446.7 365.6L447.7 365.6L448.7 365.6L449.7 365.6L450.7 365.6L451.7 365.6L452.7 365.6L453.7 365.6L454.7 365.6L455.7 365.5L456.7 365.5L457.7 365.5L458.7 365.5L459.7 365.5L460.7 365.5L461.7 365.5L462.7 365.5L463.7 365.5L464.7 365.5L465.7 365.5L466.7 365.4L467.7 365.4L468.7 365.4L469.7 365.4L470.7 365.4L471.7 365.4L472.7 365.4L473.7 365.4L474.7 365.4L475.7 365.4L476.7 365.4L477.7 365.3L478.7 365.3L479.7 365.3L480.7 365.3L481.7 365.3L482.7 365.3L483.7 365.3L484.7 365.3L485.7 365.3L486.7 365.3L487.7 365.2L488.7 365.2L489.7 365.2L490.7 365.2L491.7 365.2L492.8 365.2L493.8 365.2L494.8 365.2L495.8 365.2L496.8 365.1L497.8 365.1L498.8 365.1L499.8 365.1L500.8 365.1L501.8 365.1L502.8 365.1L503.8 365.1L504.8 365.0L505.8 365.0L506.8 365.0L507.8 365.0L508.8 365.0L509.8 365.0L510.8 365.0L511.8 364.9L512.8 364.9L513.8 364.9L514.8 364.9L515.8 364.9L516.8 364.9L517.8 364.9L518.8 364.8L519.8 364.8L520.8 364.8L521.8 364.8L522.8 364.8L523.8 364.8L524.8 364.8L525.8 364.7L526.8 364.7L527.8 364.7L528.8 364.7L529.8 364.7L530.8 364.7L531.8 364.6L532.8 364.6L533.8 364.6L534.8 364.6L535.8 364.6L536.8 364.6L537.8 364.5L538.8 364.5L539.8 364.5L540.8 364.5L541.8 364.5L542.8 364.5L543.8 364.4L544.8 364.4L545.8 364.4L546.8 364.4L547.8 364.4L548.8 364.4L549.8 364.3L550.8 364.3L551.8 364.3L552.8 364.3L553.8 364.3L554.8 364.2L555.8 364.2L556.8 364.2L557.8 364.2L558.8 364.2L559.8 364.2L560.8 364.1L561.8 364.1L562.8 364.1L563.8 364.1L564.8 364.1L565.8 364.0L566.8 364.0L567.8 364.0L568.8 364.0L569.8 364.0L570.8 364.0L571.8 363.9L572.8 363.9L573.8 363.9L574.8 363.9L575.8 363.9L576.8 363.9L577.8 363.8L578.8 363.8L579.8 363.8L580.8 363.8L581.8 363.8L582.8 363.7L583.8 363.7L584.8 363.7L585.8 363.7L586.8 363.7L587.8 363.7L588.8 363.6L589.9 363.6L590.9 363.6L591.9 363.6L592.9 363.6L593.9 363.6L594.9 363.5L595.9 363.5L596.9 363.5L597.9 363.5L598.9 363.5L599.9 363.5L600.9 363.4L601.9 363.4L602.9 363.4L603.9 363.4L604.9 363.4L605.9 363.4L606.9 363.3L607.9 363.3L608.9 363.3L609.9 363.3L610.9 363.3L611.9 363.2L612.9 363.2L613.9 363.2L614.9 363.2L615.9 363.2L616.9 363.1L617.9 363.1L618.9 363.1L619.9 363.1L620.9 363.1L621.9 363.0L622.9 363.0L623.9 363.0L624.9 363.0L625.9 363.0L626.9 362.9L627.9 362.9L628.9 362.9L629.9 362.9L630.9 362.8L631.9 362.8L632.9 362.8L633.9 362.8L634.9 362.8L635.9 362.7L636.9 362.7L637.9 362.7L638.9 362.7L639.9 362.7L640.9 362.6L641.9 362.6L642.9 362.6L643.9 362.6L644.9 362.5L645.9 362.5L646.9 362.5L647.9 362.5L648.9 362.5L649.9 362.4L650.9 362.4L651.9 362.4L652.9 362.4L653.9 362.3L654.9 362.3L655.9 362.3L656.9 362.3L657.9 362.3L658.9 362.2L659.9 362.2L660.9 362.2L661.9 362.2L662.9 362.2L663.9 362.2L664.9 362.1L665.9 362.1L666.9 362.1L667.9 362.1L668.9 362.1L669.9 362.0L670.9 362.0L671.9 362.0L672.9 362.0L673.9 362.0L674.9 362.0L675.9 361.9L676.9 361.9L677.9 361.9L678.9 361.9L679.9 361.9L680.9 361.9L681.9 361.9L682.9 361.9L683.9 361.8L684.9 361.8L685.9 361.8L686.9 361.8L687.9 361.8L689.0 361.8L690.0 361.8L691.0 361.8L692.0 361.8L693.0 361.8L694.0 361.7L695.0 361.7L696.0 361.7L697.0 361.7L698.0 361.7L699.0 361.7L700.0 361.7L701.0 361.7L702.0 361.7L703.0 361.7L704.0 361.7L705.0 361.7L706.0 361.7L707.0 361.7L708.0 361.7L709.0 361.7L710.0 361.7L711.0 361.7L712.0 361.7L713.0 361.7L714.0 361.7L715.0 361.7L716.0 361.7L717.0 361.7L718.0 361.7L719.0 361.7L720.0 361.7L721.0 361.7L722.0 361.7L723.0 361.7L724.0 361.7L725.0 361.7L726.0 361.7L727.0 361.7L728.0 361.7L729.0 361.7L730.0 361.7L731.0 361.7L732.0 361.7L733.0 361.7L734.0 361.7L735.0 361.7L736.0 361.7L737.0 361.7L738.0 361.7L739.0 361.7L740.0 361.7L741.0 361.7L742.0 361.7L743.0 361.7L744.0 361.7L745.0 361.7L746.0 361.7L747.0 361.7L748.0 361.7L749.0 361.7L750.0 361.7L751.0 361.7L752.0 361.7L753.0 361.7L754.0 361.7L755.0 361.7L756.0 361.7L757.0 361.7L758.0 361.7L759.0 361.7L760.0 361.7L761.0 361.7L762.0 361.7L763.0 361.7L764.0 361.7L765.0 361.7L766.0 361.7L767.0 361.7L768.0 361.7L769.0 361.7L770.0 361.7L771.0 361.7L772.0 361.7L773.0 361.7L774.0 361.7L775.0 361.7L776.1 361.7L777.1 361.7L778.1 361.7L779.1 361.7L780.1 361.7L781.1 361.7L782.1 361.7L783.1 361.7L784.1 361.7L785.1 361.7L786.1 361.7L787.1 361.7L788.1 361.7L789.1 361.7L790.1 361.7L791.1 361.7L792.1 361.7L793.1 361.7L794.1 361.7L795.1 361.7L796.1 361.7L797.1 361.7L798.1 361.7L799.1 361.7L800.1 361.7L801.1 361.7L802.1 361.7L803.1 361.7L804.1 361.7L805.1 361.7L806.1 361.7L807.1 361.7L808.1 361.7L809.1 361.7L810.1 361.7L811.1 361.7L812.1 361.7L813.1 361.7L814.1 361.7L815.1 361.7L816.1 361.7L817.1 361.8L818.1 361.8L819.1 361.8L820.1 361.8L821.1 361.8L822.1 361.8L823.1 361.9L824.1 361.9L825.1 361.9L826.1 361.9L827.1 361.9L828.1 361.9L829.1 362.0L830.1 362.0L831.1 362.0L832.1 362.0L833.1 362.0L834.1 362.1L835.1 362.1L836.1 362.1L837.1 362.1L838.1 362.1L839.1 362.2L840.1 362.2L841.1 362.2L842.1 362.2L843.1 362.2L844.1 362.2L845.1 362.2L846.1 362.2L847.1 362.3L848.1 362.3L849.1 362.3L850.1 362.3L851.1 362.3L852.1 362.3L853.1 362.3L854.1 362.3L855.1 362.3L856.1 362.3L857.1 362.3L858.1 362.4L859.2 362.4L860.2 362.4L861.2 362.4L862.2 362.4L863.2 362.4L864.2 362.4L865.2 362.4L866.2 362.4L867.2 362.4L868.2 362.5L869.2 362.5L870.2 362.5L871.2 362.5L872.2 362.5L873.2 362.5L874.2 362.6L875.2 362.6L876.2 362.6L877.2 362.6L878.2 362.7L879.2 362.7L880.2 362.8L881.2 362.9L882.2 363.0L883.2 363.1L884.2 363.3L885.2 363.4L886.2 363.5L887.2 363.6L888.2 363.7L889.2 363.9L890.2 364.0" stroke="#0000ff" stroke-width="2.4"/>
<path d="M890.2 364.0L891.2 364.1L892.2 364.2L893.2 364.3L894.2 364.3L895.2 364.4L896.1 364.4L897.1 364.4L898.1 364.2L899.1 363.9L900.0 363.6L900.9 363.1L901.8 362.7L902.6 362.2L903.4 361.6L904.2 360.9L905.0 360.2L905.7 359.5L906.4 358.8L907.1 358.0L907.7 357.3L908.3 356.5L908.9 355.7L909.4 354.8L909.9 354.0L910.4 353.1L910.9 352.2L911.4 351.3L911.8 350.4L912.3 349.5L912.7 348.6L913.2 347.7L913.5 346.8L913.9 345.8L914.3 344.9L914.6 343.9L915.0 343.0L915.4 342.0L915.7 341.1L916.1 340.2L916.5 339.3L916.9 338.4L917.4 337.5L917.9 336.6L918.4 335.8L918.9 334.9L919.5 334.0L920.1 333.2L920.7 332.4L921.4 331.7L922.1 331.0L922.8 330.3L923.6 329.7L924.4 329.0L925.3 328.4L926.3 328.0L927.1 327.9L928.2 328.1L929.3 328.6L930.1 329.2L930.5 329.8L930.7 330.5L930.9 331.4L931.1 332.3L931.2 333.3L931.3 334.4L931.4 335.5L931.5 336.6L931.6 337.7L931.8 338.8L931.9 339.9L932.1 340.8L932.4 341.8L932.7 342.8L933.0 343.8L933.3 344.8L933.7 345.7L934.1 346.6L934.6 347.4L935.1 348.2L935.8 348.9L936.5 349.7L937.3 350.4L938.2 351.0L939.0 351.6L939.9 352.1L940.8 352.4L941.7 352.7L942.6 353.0L943.5 353.2L944.5 353.4L945.5 353.6L946.5 353.8L947.5 353.9L948.5 354.1L949.5 354.2L950.5 354.4L951.6 354.6L952.6 354.7L953.6 354.9L954.6 355.1L955.5 355.4L956.5 355.6L957.5 355.9L958.4 356.2L959.4 356.5L960.3 356.8L961.2 357.1L962.2 357.5L963.1 357.8L964.1 358.2L965.0 358.6L965.9 358.9L966.9 359.3L967.8 359.7L968.7 360.1L969.7 360.5L970.6 360.8L971.5 361.2L972.5 361.6L973.4 361.9L974.3 362.3L975.3 362.6L976.2 362.9L977.2 363.3L978.1 363.6L979.1 363.8L980.0 364.1L981.0 364.4L982.0 364.6L982.9 364.9L983.9 365.2L984.9 365.4L985.8 365.7L986.8 365.9L987.8 366.2L988.8 366.4L989.7 366.6L990.7 366.9L991.7 367.1L992.7 367.3L993.6 367.6L994.6 367.8L995.6 368.0L996.6 368.2L997.6 368.4L998.5 368.6L999.5 368.8L1000.5 369.0L1001.5 369.2L1002.5 369.4L1003.4 369.6L1004.4 369.8L1005.4 370.0L1006.4 370.2L1007.4 370.3L1008.4 370.5L1009.3 370.7L1010.3 370.9L1011.3 371.1L1012.3 371.3L1013.3 371.4L1014.3 371.6L1015.3 371.8L1016.3 372.0L1017.3 372.1L1018.2 372.3L1019.2 372.4L1020.2 372.6L1021.2 372.7L1022.2 372.8L1023.2 372.9L1024.2 373.0L1025.2 373.1L1026.2 373.2L1027.2 373.3L1028.2 373.4L1029.2 373.4L1030.2 373.5L1031.2 373.5L1032.2 373.6L1033.2 373.7L1034.2 373.7L1035.2 373.8L1036.2 373.8L1037.2 373.9L1038.2 373.9L1039.2 374.0L1040.2 374.0L1041.2 374.1L1042.2 374.1L1043.2 374.2L1044.2 374.2L1045.2 374.2L1046.2 374.3L1047.2 374.3L1048.2 374.4L1049.2 374.4L1050.2 374.4L1051.2 374.4L1052.2 374.5L1053.2 374.5L1054.2 374.5L1055.2 374.5L1056.2 374.6L1057.2 374.6L1058.2 374.6L1059.2 374.6L1060.2 374.6L1061.2 374.6L1062.2 374.6L1063.2 374.6L1064.2 374.6L1065.2 374.6L1066.2 374.6L1067.2 374.6L1068.2 374.6L1069.2 374.6L1070.2 374.6L1071.3 374.6L1072.3 374.6L1073.3 374.6L1074.3 374.6L1075.3 374.6L1076.3 374.6L1077.3 374.6L1078.3 374.6L1079.3 374.5L1080.3 374.5L1081.3 374.5L1082.4 374.5L1083.4 374.5L1084.4 374.5L1085.4 374.5L1086.4 374.5L1087.4 374.5L1088.4 374.5L1089.4 374.4L1090.4 374.4L1091.4 374.4L1092.3 374.4L1093.3 374.4L1094.3 374.4L1095.3 374.4L1096.3 374.3L1097.3 374.3L1098.2 374.3L1099.3 374.2L1100.3 374.1L1101.4 373.8L1102.5 373.6L1103.5 373.2L1104.5 372.9L1105.4 372.4L1106.1 372.0L1106.8 371.6L1107.3 370.8L1107.8 369.8L1108.2 368.6L1108.6 367.3L1109.0 366.1L1109.3 365.1L1109.7 364.5L1110.1 364.3L1110.4 364.7L1110.7 365.7L1111.0 367.0L1111.3 368.4L1111.7 369.7L1112.1 370.7L1112.5 371.2L1113.0 371.2L1113.6 371.1L1114.3 371.1L1115.1 371.0L1116.0 370.9L1117.0 370.7L1118.0 370.5L1119.0 370.4L1120.1 370.2L1121.2 369.9L1122.4 369.7L1123.5 369.5L1124.7 369.2L1125.8 369.0L1126.9 368.7L1128.0 368.5L1129.1 368.2L1130.1 367.9L1131.1 367.7L1132.0 367.4L1133.0 367.1L1133.9 366.8L1134.9 366.5L1135.9 366.2L1136.9 365.8L1137.8 365.5L1138.8 365.1L1139.7 364.7L1140.7 364.3L1141.6 363.9L1142.5 363.4L1143.4 363.0L1144.3 362.5L1145.2 362.0L1146.0 361.5L1146.8 361.0L1147.6 360.5L1148.4 360.0L1149.1 359.4L1149.9 358.8L1150.6 358.1L1151.3 357.4L1152.0 356.7L1152.7 355.9L1153.4 355.1L1154.0 354.4L1154.7 353.5L1155.3 352.7L1155.9 351.9L1156.6 351.1L1157.1 350.2L1157.7 349.4L1158.3 348.6L1158.8 347.8L1159.4 347.0L1159.9 346.1L1160.4 345.2L1160.9 344.4L1161.4 343.5L1161.8 342.6L1162.3 341.7L1162.8 340.8L1163.2 339.9L1163.7 339.0L1164.2 338.1L1164.7 337.3L1165.2 336.4L1165.7 335.5L1166.2 334.6L1166.6 333.7L1167.1 332.9L1167.6 332.0L1168.1 331.1L1168.6 330.2L1169.1 329.3L1169.6 328.5L1170.1 327.6L1170.7 326.8L1171.3 326.0L1171.9 325.2L1172.5 324.5L1173.1 323.8L1173.8 323.1L1174.5 322.4L1175.3 321.7L1176.0 321.0L1176.8 320.3L1177.6 319.7L1178.3 319.0L1179.1 318.4L1179.9 317.7L1180.7 317.1L1181.5 316.4L1182.2 315.8L1183.0 315.1L1183.7 314.5L1184.5 313.8L1185.2 313.2L1186.0 312.5L1186.8 311.8L1187.5 311.2L1188.3 310.6L1189.1 309.9L1189.8 309.3L1190.6 308.7L1191.4 308.0L1192.2 307.4L1193.0 306.8L1193.8 306.3L1194.6 305.7L1195.4 305.1L1196.3 304.5L1197.1 303.9L1197.9 303.4L1198.8 302.8L1199.6 302.3L1200.4 301.7L1201.3 301.2L1202.2 300.7L1203.0 300.2L1203.9 299.7L1204.8 299.3L1205.7 298.8L1206.6 298.3L1207.5 297.9L1208.4 297.5L1209.3 297.1L1210.3 296.7L1211.2 296.3L1212.2 295.9L1213.2 295.6L1214.1 295.3L1215.0 295.3L1215.8 295.6L1216.7 296.1L1217.5 296.8L1218.3 297.6L1219.0 298.5L1219.7 299.3L1220.2 300.0L1220.7 300.8L1221.2 301.7L1221.7 302.5L1222.1 303.4L1222.6 304.4L1223.0 305.3L1223.3 306.3L1223.7 307.2L1224.1 308.2L1224.4 309.2L1224.8 310.1L1225.1 311.1L1225.5 312.0L1225.8 312.9L1226.2 313.9L1226.5 314.8L1226.8 315.8L1227.1 316.7L1227.5 317.7L1227.8 318.6L1228.0 319.6L1228.3 320.6L1228.6 321.5L1228.8 322.5L1229.1 323.5L1229.3 324.4L1229.5 325.4L1229.7 326.4L1229.9 327.4L1230.1 328.3L1230.3 329.3L1230.5 330.3L1230.7 331.3L1230.8 332.3L1231.0 333.3L1231.1 334.3L1231.3 335.3L1231.4 336.3L1231.6 337.3L1231.7 338.2L1231.9 339.2L1232.0 340.2L1232.1 341.2L1232.2 342.2L1232.4 343.2L1232.5 344.2L1232.6 345.2L1232.7 346.2L1232.8 347.2L1232.9 348.2L1233.0 349.2L1233.1 350.2L1233.2 351.2L1233.2 352.2L1233.3 353.2L1233.4 354.2L1233.5 355.2L1233.7 356.2L1233.8 357.2L1233.9 358.2L1234.0 359.2L1234.1 360.1L1234.2 361.1L1234.4 362.2L1234.5 363.3L1234.7 364.5L1234.8 365.8L1235.0 367.1L1235.2 368.4L1235.3 369.7L1235.5 370.9L1235.7 371.9L1235.9 372.9L1236.1 373.7L1236.3 374.2L1236.5 374.5L1236.8 374.6L1237.0 374.2L1237.3 373.4L1237.7 372.3L1238.0 371.1L1238.3 369.8L1238.6 368.6L1238.9 367.6L1239.1 366.6L1239.3 365.6L1239.4 364.6L1239.6 363.6L1239.8 362.6L1239.9 361.5L1240.1 360.5L1240.2 359.5L1240.4 358.6L1240.7 357.6L1240.9 356.7L1241.2 355.8L1241.6 354.9L1242.1 353.8L1242.7 352.8L1243.5 352.2L1244.2 352.1L1245.3 352.2L1246.3 352.4L1247.2 352.8L1248.0 353.3L1248.8 354.0L1249.5 354.8L1250.2 355.6L1250.8 356.4L1251.3 357.2L1251.7 358.1L1252.1 359.0L1252.5 359.9L1252.9 360.9L1253.2 361.9L1253.6 362.8L1254.0 363.8L1254.4 364.7L1254.8 365.6L1255.2 366.5L1255.6 367.4L1256.0 368.3L1256.4 369.2L1256.8 370.2L1257.2 371.1L1257.7 372.0L1258.1 372.9L1258.5 373.8" stroke="#0000ff" stroke-width="3.1"/>
<path d="M98.6 273.5L99.6 273.5L100.6 273.5L101.6 273.5L102.6 273.5L103.6 273.5L104.6 273.5L105.6 273.5L106.6 273.5L107.6 273.5L108.6 273.5L109.6 273.5L110.6 273.5L111.6 273.5L112.6 273.5L113.6 273.5L114.6 273.5L115.6 273.5L116.6 273.5L117.6 273.5L118.7 273.5L119.7 273.5L120.7 273.5L121.7 273.5L122.7 273.5L123.7 273.5L124.7 273.5L125.7 273.5L126.7 273.5L127.7 273.5L128.7 273.5L129.7 273.5L130.7 273.5L131.7 273.5L132.7 273.5L133.7 273.5L134.7 273.5L135.7 273.5L136.7 273.5L137.7 273.5L138.7 273.5L139.7 273.5L140.7 273.4L141.7 273.4L142.7 273.4L143.7 273.4L144.7 273.4L145.7 273.4L146.7 273.4L147.7 273.4L148.7 273.4L149.7 273.4L150.7 273.4L151.7 273.4L152.7 273.4L153.7 273.4L154.7 273.4L155.7 273.4L156.7 273.4L157.7 273.4L158.7 273.4L159.7 273.4L160.7 273.4L161.7 273.4L162.7 273.4L163.7 273.4L164.7 273.4L165.7 273.4L166.7 273.4L167.7 273.4L168.7 273.3L169.7 273.3L170.7 273.3L171.7 273.3L172.7 273.3L173.7 273.3L174.7 273.3L175.7 273.3L176.7 273.3L177.7 273.3L178.7 273.3L179.7 273.3L180.7 273.3L181.7 273.3L182.7 273.3L183.7 273.3L184.7 273.3L185.7 273.3L186.7 273.3L187.7 273.2L188.7 273.2L189.7 273.2L190.7 273.2L191.7 273.2L192.7 273.2L193.7 273.2L194.7 273.2L195.7 273.2L196.7 273.2L197.7 273.2L198.8 273.2L199.8 273.2L200.8 273.2L201.8 273.2L202.8 273.1L203.8 273.1L204.8 273.1L205.8 273.1L206.8 273.1L207.8 273.1L208.8 273.1L209.8 273.1L210.8 273.1L211.8 273.1L212.8 273.1L213.8 273.1L214.8 273.1L215.8 273.0L216.8 273.0L217.8 273.0L218.8 273.0L219.8 273.0L220.8 273.0L221.8 273.0L222.8 273.0L223.8 273.0L224.8 273.0L225.8 273.0L226.8 272.9L227.8 272.9L228.8 272.9L229.8 272.9L230.8 272.9L231.8 272.9L232.8 272.9L233.8 272.9L234.8 272.9L235.8 272.9L236.8 272.8L237.8 272.8L238.8 272.8L239.8 272.8L240.8 272.8L241.8 272.8L242.8 272.8L243.7 272.7L244.7 272.7L245.7 272.7L246.7 272.6L247.7 272.6L248.7 272.6L249.7 272.5L250.7 272.5L251.7 272.4L252.7 272.3L253.7 272.3L254.7 272.2L255.7 272.1L256.7 272.1L257.7 272.0L258.7 271.9L259.7 271.8L260.7 271.7L261.7 271.7L262.7 271.6L263.7 271.5L264.7 271.4L265.7 271.3L266.7 271.2L267.7 271.1L268.7 271.1L269.7 271.0L270.7 270.9L271.7 270.8L272.7 270.7L273.7 270.6L274.7 270.5L275.7 270.5L276.7 270.4L277.7 270.3L278.7 270.2L279.7 270.2L280.7 270.1L281.7 270.0L282.7 270.0L283.7 269.9L284.7 269.8L285.7 269.8L286.7 269.7L287.7 269.6L288.7 269.6L289.7 269.5L290.7 269.5L291.7 269.4L292.7 269.3L293.7 269.3L294.7 269.2L295.7 269.1L296.7 269.1L297.7 269.0L298.7 268.9L299.7 268.9L300.7 268.8L301.7 268.7L302.7 268.7L303.7 268.6L304.7 268.6L305.7 268.5L306.7 268.5L307.7 268.4L308.7 268.4L309.7 268.3L310.7 268.3L311.7 268.2L312.7 268.2L313.7 268.1L314.7 268.1L315.7 268.0L316.7 268.0L317.7 268.0L318.7 267.9L319.7 267.9L320.7 267.8L321.7 267.8L322.7 267.8L323.7 267.7L324.7 267.7L325.7 267.7L326.7 267.6L327.7 267.6L328.7 267.6L329.7 267.6L330.7 267.5L331.7 267.5L332.7 267.5L333.7 267.4L334.7 267.4L335.7 267.4L336.7 267.3L337.7 267.3L338.7 267.3L339.7 267.3L340.7 267.2L341.7 267.2L342.7 267.2L343.7 267.2L344.7 267.1L345.7 267.1L346.7 267.1L347.7 267.1L348.7 267.0L349.7 267.0L350.7 267.0L351.7 267.0L352.7 266.9L353.7 266.9L354.7 266.9L355.7 266.9L356.7 266.9L357.7 266.8L358.7 266.8L359.7 266.8L360.7 266.8L361.7 266.7L362.7 266.7L363.7 266.7L364.7 266.7L365.7 266.7L366.7 266.6L367.7 266.6L368.7 266.6L369.7 266.6L370.7 266.5L371.7 266.5L372.7 266.5L373.7 266.5L374.7 266.5L375.7 266.4L376.7 266.4L377.7 266.4L378.7 266.4L379.7 266.4L380.7 266.3L381.7 266.3L382.7 266.3L383.7 266.3L384.7 266.2L385.7 266.2L386.7 266.2L387.7 266.2L388.7 266.2L389.7 266.1L390.7 266.1L391.7 266.1L392.7 266.1L393.7 266.0L394.7 266.0L395.7 266.0L396.7 266.0L397.7 265.9L398.7 265.9L399.7 265.9L400.7 265.9L401.7 265.8L402.7 265.8L403.7 265.8L404.7 265.7L405.7 265.7L406.7 265.7L407.7 265.7L408.7 265.6L409.7 265.6L410.7 265.6L411.7 265.6L412.8 265.5L413.8 265.5L414.8 265.5L415.8 265.4L416.8 265.4L417.8 265.4L418.8 265.4L419.8 265.3L420.8 265.3L421.8 265.3L422.8 265.3L423.8 265.2L424.8 265.2L425.8 265.2L426.8 265.1L427.8 265.1L428.8 265.1L429.8 265.1L430.8 265.0L431.8 265.0L432.8 265.0L433.8 265.0L434.8 264.9L435.8 264.9L436.8 264.9L437.8 264.8L438.8 264.8L439.8 264.8L440.8 264.8L441.8 264.7L442.8 264.7L443.8 264.7L444.8 264.6L445.8 264.6L446.8 264.6L447.8 264.6L448.8 264.5L449.8 264.5L450.8 264.5L451.8 264.4L452.8 264.4L453.8 264.4L454.8 264.4L455.8 264.3L456.8 264.3L457.8 264.3L458.8 264.3L459.8 264.2L460.8 264.2L461.8 264.2L462.8 264.1L463.8 264.1L464.8 264.1L465.8 264.1L466.8 264.0L467.8 264.0L468.8 264.0L469.8 264.0L470.8 263.9L471.8 263.9L472.8 263.9L473.8 263.9L474.8 263.8L475.8 263.8L476.8 263.8L477.8 263.7L478.8 263.7L479.8 263.7L480.8 263.7L481.8 263.6L482.8 263.6L483.8 263.6L484.8 263.6L485.8 263.5L486.8 263.5L487.8 263.5L488.8 263.5L489.8 263.4L490.8 263.4L491.8 263.4L492.8 263.4L493.8 263.3L494.8 263.3L495.8 263.3L496.8 263.3L497.8 263.3L498.8 263.2L499.8 263.2L500.8 263.2L501.8 263.2L502.8 263.1L503.8 263.1L504.8 263.1L505.8 263.1L506.8 263.0L507.8 263.0L508.8 263.0L509.8 263.0L510.8 263.0L511.8 262.9L512.8 262.9L513.8 262.9L514.8 262.9L515.8 262.8L516.8 262.8L517.8 262.8L518.8 262.8L519.8 262.8L520.8 262.7L521.8 262.7L522.8 262.7L523.8 262.7L524.8 262.6L525.8 262.6L526.8 262.6L527.8 262.6L528.8 262.6L529.8 262.5L530.8 262.5L531.8 262.5L532.8 262.5L533.8 262.5L534.8 262.4L535.8 262.4L536.8 262.4L537.8 262.4L538.8 262.3L539.8 262.3L540.8 262.3L541.8 262.3L542.8 262.3L543.8 262.2L544.9 262.2L545.9 262.2L546.9 262.2L547.9 262.2L548.9 262.1L549.9 262.1L550.9 262.1L551.9 262.1L552.9 262.1L553.9 262.0L554.9 262.0L555.9 262.0L556.9 262.0L557.9 262.0L558.9 261.9L559.9 261.9L560.9 261.9L561.9 261.9L562.9 261.9L563.9 261.8L564.9 261.8L565.9 261.8L566.9 261.8L567.9 261.8L568.9 261.7L569.9 261.7L570.9 261.7L571.9 261.7L572.9 261.7L573.9 261.6L574.9 261.6L575.9 261.6L576.9 261.6L577.9 261.6L578.9 261.5L579.9 261.5L580.9 261.5L581.9 261.5L582.9 261.5L583.9 261.5L584.9 261.4L585.9 261.4L586.9 261.4L587.9 261.4L588.9 261.4L589.9 261.3L590.9 261.3L591.9 261.3L592.9 261.3L593.9 261.3L594.9 261.2L595.9 261.2L596.9 261.2L597.9 261.2L598.9 261.2L599.9 261.2L600.9 261.1L601.9 261.1L602.9 261.1L603.9 261.1L604.9 261.1L605.9 261.0L606.9 261.0L607.9 261.0L608.9 261.0L609.9 261.0L610.9 260.9L611.9 260.9L612.9 260.9L613.9 260.9L614.9 260.9L615.9 260.8L616.9 260.8L617.9 260.8L618.9 260.8L619.9 260.8L620.9 260.7L621.9 260.7L622.9 260.7L623.9 260.7L624.9 260.7L625.9 260.6L626.9 260.6L627.9 260.6L628.9 260.6L629.9 260.5L630.9 260.5L631.9 260.5L632.9 260.5L633.9 260.5L634.9 260.4L635.9 260.4L636.9 260.4L637.9 260.4L638.9 260.3L639.9 260.3L640.9 260.3L641.9 260.3L642.9 260.3L643.9 260.2L644.9 260.2L645.9 260.2L646.9 260.2L647.9 260.2L648.9 260.1L649.9 260.1L650.9 260.1L651.9 260.1L652.9 260.0L653.9 260.0L654.9 260.0L656.0 260.0L657.0 260.0L658.0 259.9L659.0 259.9L660.0 259.9L661.0 259.9L662.0 259.9L663.0 259.9L664.0 259.8L665.0 259.8L666.0 259.8L667.0 259.8L668.0 259.8L669.0 259.7L670.0 259.7L671.0 259.7L672.0 259.7L673.0 259.7L674.0 259.7L675.0 259.7L676.0 259.6L677.0 259.6L678.0 259.6L679.0 259.6L680.0 259.6L681.0 259.6L682.0 259.6L683.0 259.5L684.0 259.5L685.0 259.5L686.0 259.5L687.0 259.5L688.0 259.5L689.0 259.5L690.0 259.5L691.0 259.5L692.0 259.5L693.0 259.4L694.0 259.4L695.0 259.4L696.0 259.4L697.0 259.4L698.0 259.4L699.0 259.4L700.0 259.4L701.0 259.4L702.0 259.4L703.0 259.4L704.0 259.4L705.0 259.4L706.0 259.4L707.0 259.4L708.0 259.4L709.0 259.4L710.0 259.4L711.0 259.4L712.0 259.4L713.0 259.4L714.0 259.4L715.0 259.4L716.0 259.4L717.0 259.4L718.0 259.4L719.0 259.4L720.0 259.4L721.0 259.4L722.0 259.4L723.0 259.4L724.0 259.4L725.0 259.4L726.0 259.4L727.0 259.4L728.0 259.4L729.0 259.4L730.0 259.4L731.0 259.4L732.0 259.4L733.0 259.4L734.0 259.4L735.0 259.4L736.0 259.4L737.0 259.4L738.0 259.4L739.0 259.4L740.0 259.4L741.0 259.4L742.0 259.4L743.0 259.4L744.0 259.4L745.0 259.4L746.0 259.4L747.0 259.4L748.0 259.4L749.0 259.4L750.0 259.4L751.0 259.4L752.1 259.4L753.1 259.4L754.1 259.4L755.1 259.4L756.1 259.4L757.1 259.4L758.1 259.4L759.1 259.4L760.1 259.4L761.1 259.4L762.1 259.4L763.1 259.4L764.1 259.4L765.1 259.4L766.1 259.4L767.1 259.4L768.1 259.4L769.1 259.4L770.1 259.4L771.1 259.4L772.1 259.4L773.1 259.4L774.1 259.4L775.1 259.4L776.1 259.4L777.1 259.4L778.1 259.4L779.1 259.4L780.1 259.4L781.1 259.4L782.1 259.4L783.1 259.4L784.1 259.4L785.1 259.4L786.1 259.4L787.1 259.4L788.1 259.4L789.1 259.4L790.1 259.4L791.1 259.4L792.1 259.4L793.1 259.4L794.1 259.4L795.1 259.4L796.1 259.4L797.1 259.4L798.1 259.4L799.1 259.4L800.1 259.4L801.1 259.4L802.1 259.4L803.1 259.4L804.1 259.4L805.1 259.4L806.1 259.4L807.1 259.4L808.1 259.4L809.1 259.4L810.1 259.4L811.1 259.4L812.1 259.4L813.1 259.4L814.1 259.5L815.1 259.5L816.1 259.5L817.1 259.5L818.1 259.5L819.1 259.6L820.1 259.6L821.1 259.6L822.1 259.7L823.1 259.7L824.1 259.7L825.1 259.8L826.1 259.8L827.1 259.9L828.1 259.9L829.1 259.9L830.1 260.0L831.1 260.0L832.1 260.1L833.1 260.1L834.1 260.1L835.1 260.2L836.1 260.2L837.1 260.3L838.1 260.3L839.1 260.3L840.1 260.4L841.1 260.4L842.1 260.4L843.1 260.4L844.1 260.4L845.1 260.5L846.1 260.5L847.1 260.5L848.1 260.5L849.1 260.5L850.1 260.6L851.1 260.6L852.1 260.6L853.1 260.6L854.1 260.6L855.1 260.7L856.1 260.7L857.1 260.7L858.1 260.7L859.1 260.7L860.1 260.7L861.1 260.8L862.1 260.8L863.1 260.8L864.2 260.8L865.2 260.8L866.2 260.8L867.2 260.9L868.2 260.9L869.2 260.9L870.2 260.9L871.2 260.9L872.2 261.0L873.2 261.0L874.2 261.0L875.2 261.0L876.2 261.1L877.2 261.1L878.2 261.1L879.2 261.2L880.2 261.2L881.2 261.2L882.2 261.3L883.2 261.3L884.2 261.3L885.2 261.4L886.2 261.4L887.2 261.5L888.2 261.5L889.2 261.6L890.2 261.6" stroke="#ff00ff" stroke-width="2.4"/>
<path d="M890.2 261.6L891.2 261.7L892.2 261.7L893.2 261.8L894.2 261.8L895.2 261.9L896.2 262.0L897.2 262.1L898.2 262.1L899.1 262.1L900.1 262.0L901.1 261.7L902.1 261.5L903.0 261.1L904.0 260.7L904.9 260.3L905.8 259.8L906.8 259.4L907.6 259.0L908.5 258.5L909.3 258.0L910.2 257.4L911.0 256.8L911.8 256.2L912.6 255.6L913.4 255.0L914.2 254.4L915.0 253.8L915.8 253.2L916.7 252.6L917.5 252.1L918.3 251.5L919.2 251.0L920.0 250.5L920.9 249.9L921.7 249.4L922.6 248.9L923.5 248.4L924.4 247.9L925.3 247.4L926.2 247.0L927.1 246.9L928.1 247.2L929.1 247.7L929.9 248.4L930.5 249.1L930.9 249.9L931.2 250.9L931.5 252.0L931.9 252.9L932.4 253.6L933.1 254.3L934.0 255.0L934.9 255.6L935.8 256.0L936.7 256.4L937.6 256.7L938.5 257.0L939.4 257.2L940.4 257.4L941.3 257.7L942.3 257.8L943.3 258.0L944.3 258.2L945.3 258.4L946.3 258.5L947.4 258.7L948.4 258.8L949.4 259.0L950.4 259.1L951.4 259.3L952.4 259.5L953.4 259.7L954.4 259.9L955.4 260.1L956.3 260.3L957.3 260.5L958.3 260.7L959.3 260.9L960.2 261.1L961.2 261.3L962.2 261.6L963.2 261.8L964.2 262.0L965.1 262.2L966.1 262.4L967.1 262.6L968.1 262.8L969.1 263.0L970.0 263.3L971.0 263.5L972.0 263.7L973.0 263.9L973.9 264.1L974.9 264.3L975.9 264.5L976.9 264.7L977.9 264.9L978.8 265.1L979.8 265.3L980.8 265.5L981.8 265.7L982.8 265.9L983.8 266.1L984.7 266.3L985.7 266.5L986.7 266.7L987.7 266.9L988.7 267.1L989.6 267.3L990.6 267.5L991.6 267.7L992.6 267.9L993.6 268.1L994.6 268.3L995.5 268.5L996.5 268.7L997.5 268.9L998.5 269.0L999.5 269.2L1000.5 269.4L1001.5 269.5L1002.4 269.7L1003.4 269.8L1004.4 269.9L1005.4 270.1L1006.4 270.2L1007.4 270.3L1008.4 270.4L1009.4 270.5L1010.4 270.6L1011.4 270.8L1012.4 270.9L1013.4 271.0L1014.4 271.1L1015.4 271.2L1016.4 271.3L1017.4 271.4L1018.4 271.5L1019.4 271.6L1020.3 271.7L1021.3 271.7L1022.3 271.8L1023.3 271.9L1024.3 272.0L1025.3 272.1L1026.3 272.1L1027.3 272.2L1028.3 272.3L1029.3 272.3L1030.3 272.4L1031.3 272.4L1032.3 272.5L1033.3 272.5L1034.3 272.6L1035.3 272.6L1036.3 272.7L1037.3 272.7L1038.3 272.8L1039.3 272.8L1040.3 272.9L1041.3 272.9L1042.3 273.0L1043.3 273.0L1044.3 273.1L1045.3 273.1L1046.3 273.1L1047.3 273.2L1048.3 273.2L1049.3 273.3L1050.3 273.3L1051.3 273.3L1052.3 273.4L1053.3 273.4L1054.3 273.4L1055.3 273.4L1056.3 273.4L1057.3 273.5L1058.3 273.5L1059.3 273.5L1060.4 273.5L1061.4 273.5L1062.4 273.5L1063.4 273.5L1064.4 273.5L1065.4 273.5L1066.4 273.5L1067.4 273.5L1068.4 273.5L1069.4 273.5L1070.4 273.5L1071.4 273.5L1072.4 273.5L1073.4 273.5L1074.4 273.5L1075.4 273.5L1076.4 273.5L1077.5 273.5L1078.5 273.5L1079.5 273.5L1080.5 273.5L1081.5 273.5L1082.5 273.5L1083.5 273.5L1084.5 273.5L1085.5 273.5L1086.5 273.5L1087.5 273.5L1088.5 273.5L1089.5 273.5L1090.5 273.5L1091.5 273.5L1092.5 273.5L1093.5 273.5L1094.5 273.5L1095.5 273.5L1096.5 273.5L1097.4 273.5L1098.4 273.5L1099.4 273.5L1100.4 273.5L1101.4 273.4L1102.4 273.2L1103.3 272.9L1104.3 272.6L1105.3 272.2L1106.2 271.8L1107.1 271.5L1108.0 271.0L1108.9 270.3L1109.7 269.6L1110.5 269.2L1111.2 269.6L1111.8 270.7L1112.4 271.5L1113.2 271.6L1114.0 271.6L1114.8 271.5L1115.7 271.4L1116.6 271.3L1117.6 271.1L1118.6 270.9L1119.6 270.7L1120.7 270.5L1121.7 270.3L1122.8 270.1L1123.8 269.9L1124.9 269.6L1126.0 269.4L1127.0 269.1L1128.0 268.8L1129.1 268.6L1130.1 268.3L1131.0 268.1L1132.0 267.8L1133.0 267.6L1133.9 267.3L1134.9 267.0L1135.9 266.7L1136.9 266.4L1137.8 266.1L1138.8 265.8L1139.8 265.4L1140.7 265.1L1141.7 264.7L1142.6 264.3L1143.5 263.9L1144.4 263.5L1145.3 263.1L1146.2 262.7L1147.1 262.2L1147.9 261.8L1148.7 261.3L1149.5 260.7L1150.3 260.1L1151.1 259.5L1151.9 258.9L1152.7 258.2L1153.4 257.5L1154.2 256.8L1154.9 256.1L1155.6 255.3L1156.3 254.6L1157.0 253.8L1157.6 253.0L1158.2 252.3L1158.8 251.5L1159.3 250.7L1159.9 249.8L1160.4 249.0L1160.9 248.1L1161.3 247.2L1161.8 246.3L1162.3 245.4L1162.8 244.5L1163.2 243.6L1163.7 242.7L1164.2 241.8L1164.7 241.0L1165.2 240.1L1165.7 239.2L1166.2 238.4L1166.7 237.5L1167.2 236.6L1167.7 235.7L1168.2 234.8L1168.7 234.0L1169.2 233.1L1169.7 232.2L1170.2 231.4L1170.8 230.6L1171.4 229.8L1172.0 229.0L1172.6 228.2L1173.2 227.5L1173.9 226.8L1174.6 226.0L1175.3 225.3L1176.0 224.6L1176.7 223.9L1177.4 223.2L1178.2 222.5L1178.9 221.8L1179.7 221.2L1180.4 220.5L1181.2 219.8L1181.9 219.1L1182.6 218.4L1183.3 217.7L1184.1 217.0L1184.8 216.4L1185.5 215.7L1186.3 215.0L1187.0 214.3L1187.7 213.6L1188.5 213.0L1189.2 212.3L1190.0 211.6L1190.7 211.0L1191.5 210.3L1192.2 209.6L1193.0 209.0L1193.7 208.3L1194.5 207.6L1195.2 207.0L1196.0 206.3L1196.7 205.6L1197.5 204.9L1198.2 204.3L1199.0 203.6L1199.8 203.0L1200.6 202.4L1201.4 201.8L1202.2 201.2L1203.0 200.7L1203.9 200.2L1204.7 199.7L1205.6 199.2L1206.5 198.8L1207.4 198.3L1208.4 197.9L1209.3 197.6L1210.3 197.3L1211.3 197.0L1212.3 196.7L1213.3 196.5L1214.2 196.3L1215.1 196.3L1215.9 196.6L1216.8 197.2L1217.6 197.9L1218.4 198.8L1219.0 199.7L1219.6 200.5L1220.2 201.3L1220.6 202.1L1221.0 203.0L1221.4 203.8L1221.8 204.7L1222.2 205.7L1222.5 206.6L1222.8 207.6L1223.2 208.6L1223.5 209.6L1223.8 210.6L1224.1 211.6L1224.4 212.6L1224.7 213.6L1225.0 214.5L1225.3 215.5L1225.6 216.4L1226.0 217.4L1226.3 218.3L1226.6 219.3L1227.0 220.2L1227.3 221.2L1227.6 222.1L1227.9 223.1L1228.2 224.0L1228.5 225.0L1228.7 225.9L1229.0 226.9L1229.2 227.9L1229.4 228.9L1229.6 229.8L1229.8 230.8L1230.0 231.8L1230.1 232.8L1230.3 233.8L1230.5 234.8L1230.6 235.7L1230.8 236.7L1230.9 237.7L1231.0 238.7L1231.2 239.7L1231.3 240.7L1231.4 241.7L1231.5 242.7L1231.7 243.7L1231.8 244.7L1231.9 245.7L1232.0 246.7L1232.2 247.7L1232.3 248.7L1232.4 249.7L1232.5 250.7L1232.5 251.7L1232.6 252.7L1232.7 253.7L1232.8 254.7L1232.9 255.7L1233.0 256.7L1233.1 257.7L1233.2 258.7L1233.3 259.7L1233.4 260.7L1233.5 261.7L1233.6 262.7L1233.7 263.6L1233.9 264.6L1234.0 265.6L1234.2 266.6L1234.4 267.8L1234.7 269.1L1234.9 270.3L1235.2 271.5L1235.5 272.5L1235.9 273.2L1236.1 273.5L1236.4 273.3L1236.7 272.6L1237.0 271.6L1237.3 270.3L1237.6 269.1L1237.9 267.9L1238.1 266.9L1238.3 266.0L1238.5 265.0L1238.6 263.9L1238.8 262.9L1238.9 261.9L1239.1 260.9L1239.2 259.9L1239.4 258.9L1239.5 257.9L1239.7 256.9L1239.9 256.0L1240.2 255.1L1240.5 254.1L1240.9 253.2L1241.4 252.1L1242.0 251.1L1242.6 250.4L1243.4 250.3L1244.4 250.4L1245.4 250.5L1246.4 250.7L1247.3 251.0L1248.0 251.6L1248.8 252.3L1249.5 253.2L1250.1 254.0L1250.8 254.8L1251.4 255.6L1252.0 256.4L1252.6 257.2L1253.2 258.0L1253.8 258.9L1254.4 259.7L1254.9 260.6L1255.4 261.5L1255.8 262.4L1256.1 263.3L1256.4 264.2L1256.8 265.1L1257.1 266.0L1257.4 267.0L1257.6 268.0L1257.9 268.9L1258.1 269.9L1258.3 270.9L1258.4 272.0L1258.5 273.0" stroke="#ff00ff" stroke-width="3.1"/>
<path d="M98.6 175.0L99.6 175.0L100.6 175.0L101.6 175.0L102.6 175.0L103.6 175.0L104.6 175.0L105.6 175.0L106.6 175.0L107.6 175.0L108.6 175.0L109.6 175.0L110.6 175.0L111.6 175.0L112.6 175.0L113.6 175.0L114.6 175.0L115.6 175.0L116.6 175.0L117.6 175.0L118.6 175.0L119.6 175.0L120.6 175.0L121.6 175.0L122.6 175.0L123.6 175.0L124.7 175.0L125.7 175.0L126.7 175.0L127.7 175.0L128.7 175.0L129.7 175.0L130.7 175.0L131.7 175.0L132.7 175.0L133.7 175.0L134.7 175.0L135.7 175.0L136.7 175.0L137.7 175.0L138.7 175.0L139.7 175.0L140.7 175.0L141.7 175.0L142.7 175.0L143.7 175.0L144.7 175.0L145.7 175.0L146.7 175.0L147.7 175.0L148.7 175.0L149.7 175.0L150.7 175.0L151.7 175.0L152.7 175.0L153.7 175.0L154.7 175.0L155.7 175.0L156.7 175.0L157.7 175.0L158.7 175.0L159.7 175.0L160.7 175.0L161.7 175.0L162.7 175.0L163.7 175.0L164.7 175.0L165.7 175.0L166.7 175.0L167.7 175.0L168.7 175.0L169.7 175.0L170.7 175.0L171.7 175.0L172.7 175.0L173.7 175.0L174.7 174.9L175.7 174.9L176.7 174.9L177.7 174.9L178.7 174.9L179.7 174.9L180.7 174.9L181.7 174.9L182.7 174.9L183.7 174.9L184.7 174.9L185.7 174.9L186.7 174.9L187.7 174.9L188.7 174.9L189.7 174.9L190.7 174.9L191.7 174.9L192.7 174.9L193.7 174.9L194.7 174.9L195.7 174.9L196.7 174.9L197.7 174.9L198.7 174.9L199.7 174.9L200.7 174.9L201.7 174.9L202.7 174.9L203.7 174.9L204.7 174.9L205.7 174.9L206.7 174.9L207.7 174.9L208.7 174.8L209.7 174.8L210.7 174.8L211.7 174.8L212.7 174.7L213.7 174.7L214.7 174.6L215.7 174.6L216.7 174.6L217.7 174.5L218.7 174.5L219.7 174.4L220.7 174.4L221.7 174.3L222.7 174.2L223.7 174.2L224.7 174.1L225.7 174.1L226.7 174.0L227.7 173.9L228.7 173.9L229.7 173.8L230.7 173.7L231.7 173.7L232.7 173.6L233.7 173.5L234.7 173.5L235.7 173.4L236.7 173.3L237.7 173.3L238.7 173.2L239.7 173.1L240.7 173.1L241.7 173.0L242.7 172.9L243.7 172.8L244.7 172.8L245.7 172.7L246.7 172.7L247.7 172.6L248.7 172.5L249.7 172.5L250.7 172.4L251.7 172.4L252.7 172.3L253.7 172.2L254.7 172.2L255.7 172.1L256.7 172.1L257.7 172.0L258.7 172.0L259.7 172.0L260.7 171.9L261.7 171.9L262.7 171.9L263.7 171.8L264.7 171.8L265.7 171.8L266.7 171.7L267.7 171.7L268.8 171.7L269.8 171.6L270.8 171.6L271.8 171.6L272.8 171.6L273.8 171.5L274.8 171.5L275.8 171.5L276.8 171.4L277.8 171.4L278.8 171.4L279.8 171.4L280.8 171.3L281.8 171.3L282.8 171.3L283.8 171.3L284.8 171.2L285.8 171.2L286.8 171.2L287.8 171.1L288.8 171.1L289.8 171.1L290.8 171.1L291.8 171.1L292.8 171.0L293.8 171.0L294.8 171.0L295.8 171.0L296.8 170.9L297.8 170.9L298.8 170.9L299.8 170.9L300.8 170.8L301.8 170.8L302.8 170.8L303.8 170.8L304.8 170.8L305.8 170.7L306.8 170.7L307.8 170.7L308.8 170.7L309.8 170.7L310.8 170.6L311.8 170.6L312.8 170.6L313.8 170.6L314.8 170.5L315.8 170.5L316.8 170.5L317.8 170.5L318.8 170.5L319.8 170.4L320.8 170.4L321.8 170.4L322.8 170.4L323.8 170.4L324.8 170.3L325.8 170.3L326.8 170.3L327.8 170.3L328.8 170.3L329.8 170.2L330.8 170.2L331.8 170.2L332.8 170.2L333.8 170.2L334.8 170.1L335.8 170.1L336.8 170.1L337.8 170.1L338.8 170.1L339.8 170.0L340.8 170.0L341.8 170.0L342.8 170.0L343.8 170.0L344.8 169.9L345.8 169.9L346.8 169.9L347.8 169.9L348.8 169.9L349.8 169.8L350.8 169.8L351.8 169.8L352.8 169.8L353.8 169.7L354.8 169.7L355.8 169.7L356.9 169.7L357.9 169.7L358.9 169.6L359.9 169.6L360.9 169.6L361.9 169.6L362.9 169.5L363.9 169.5L364.9 169.5L365.9 169.5L366.9 169.4L367.9 169.4L368.9 169.4L369.9 169.4L370.9 169.3L371.9 169.3L372.9 169.3L373.9 169.3L374.9 169.3L375.9 169.2L376.9 169.2L377.9 169.2L378.9 169.2L379.9 169.1L380.9 169.1L381.9 169.1L382.9 169.1L383.9 169.0L384.9 169.0L385.9 169.0L386.9 169.0L387.9 168.9L388.9 168.9L389.9 168.9L390.9 168.9L391.9 168.8L392.9 168.8L393.9 168.8L394.9 168.8L395.9 168.7L396.9 168.7L397.9 168.7L398.9 168.7L399.9 168.6L400.9 168.6L401.9 168.6L402.9 168.6L403.9 168.5L404.9 168.5L405.9 168.5L406.9 168.5L407.9 168.4L408.9 168.4L409.9 168.4L410.9 168.4L411.9 168.3L412.9 168.3L413.9 168.3L414.9 168.3L415.9 168.2L416.9 168.2L417.9 168.2L418.9 168.2L419.9 168.1L420.9 168.1L421.9 168.1L422.9 168.1L423.9 168.0L424.9 168.0L425.9 168.0L426.9 168.0L427.9 167.9L428.9 167.9L429.9 167.9L430.9 167.9L431.9 167.8L432.9 167.8L433.9 167.8L434.9 167.8L435.9 167.7L436.9 167.7L437.9 167.7L438.9 167.7L439.9 167.6L440.9 167.6L441.9 167.6L442.9 167.5L443.9 167.5L444.9 167.5L445.9 167.5L446.9 167.4L447.9 167.4L448.9 167.4L449.9 167.4L451.0 167.3L452.0 167.3L453.0 167.3L454.0 167.3L455.0 167.2L456.0 167.2L457.0 167.2L458.0 167.2L459.0 167.1L460.0 167.1L461.0 167.1L462.0 167.1L463.0 167.0L464.0 167.0L465.0 167.0L466.0 166.9L467.0 166.9L468.0 166.9L469.0 166.9L470.0 166.8L471.0 166.8L472.0 166.8L473.0 166.8L474.0 166.7L475.0 166.7L476.0 166.7L477.0 166.7L478.0 166.6L479.0 166.6L480.0 166.6L481.0 166.5L482.0 166.5L483.0 166.5L484.0 166.5L485.0 166.4L486.0 166.4L487.0 166.4L488.0 166.3L489.0 166.3L490.0 166.3L491.0 166.3L492.0 166.2L493.0 166.2L494.0 166.2L495.0 166.1L496.0 166.1L497.0 166.1L498.0 166.1L499.0 166.0L500.0 166.0L501.0 166.0L502.0 165.9L503.0 165.9L504.0 165.9L505.0 165.8L506.0 165.8L507.0 165.8L508.0 165.8L509.0 165.7L510.0 165.7L511.0 165.7L512.0 165.6L513.0 165.6L514.0 165.6L515.0 165.5L516.0 165.5L517.0 165.5L518.0 165.4L519.0 165.4L520.0 165.4L521.0 165.3L522.0 165.3L523.0 165.3L524.0 165.2L525.0 165.2L526.0 165.2L527.0 165.1L528.0 165.1L529.0 165.1L530.0 165.0L531.0 165.0L532.0 165.0L533.0 164.9L534.0 164.9L535.0 164.9L536.0 164.8L537.0 164.8L538.0 164.7L539.0 164.7L540.0 164.7L541.0 164.6L542.0 164.6L543.0 164.6L544.0 164.5L545.0 164.5L546.0 164.5L547.0 164.4L548.0 164.4L549.0 164.4L550.0 164.3L551.0 164.3L552.0 164.3L553.0 164.2L554.0 164.2L555.0 164.1L556.0 164.1L557.0 164.1L558.0 164.0L559.0 164.0L560.0 164.0L561.0 163.9L562.0 163.9L563.1 163.9L564.1 163.8L565.1 163.8L566.1 163.8L567.1 163.7L568.1 163.7L569.1 163.7L570.1 163.6L571.1 163.6L572.1 163.6L573.1 163.5L574.1 163.5L575.1 163.5L576.1 163.4L577.1 163.4L578.1 163.4L579.1 163.3L580.1 163.3L581.1 163.3L582.1 163.2L583.1 163.2L584.1 163.2L585.1 163.1L586.1 163.1L587.1 163.1L588.1 163.0L589.1 163.0L590.1 163.0L591.1 162.9L592.1 162.9L593.1 162.9L594.1 162.9L595.1 162.8L596.1 162.8L597.1 162.8L598.1 162.7L599.1 162.7L600.1 162.7L601.1 162.7L602.1 162.6L603.1 162.6L604.1 162.6L605.1 162.5L606.1 162.5L607.1 162.5L608.1 162.5L609.1 162.4L610.1 162.4L611.1 162.4L612.1 162.3L613.1 162.3L614.1 162.3L615.1 162.3L616.1 162.2L617.1 162.2L618.1 162.2L619.1 162.2L620.1 162.1L621.1 162.1L622.1 162.1L623.1 162.0L624.1 162.0L625.1 162.0L626.1 162.0L627.1 161.9L628.1 161.9L629.1 161.9L630.1 161.8L631.1 161.8L632.1 161.8L633.1 161.8L634.1 161.7L635.1 161.7L636.1 161.7L637.1 161.6L638.1 161.6L639.1 161.6L640.1 161.6L641.1 161.5L642.1 161.5L643.1 161.5L644.1 161.5L645.1 161.4L646.1 161.4L647.1 161.4L648.1 161.3L649.1 161.3L650.1 161.3L651.1 161.3L652.1 161.2L653.1 161.2L654.1 161.2L655.1 161.2L656.1 161.1L657.1 161.1L658.1 161.1L659.1 161.1L660.1 161.0L661.1 161.0L662.1 161.0L663.1 161.0L664.1 160.9L665.1 160.9L666.2 160.9L667.2 160.9L668.2 160.9L669.2 160.8L670.2 160.8L671.2 160.8L672.2 160.8L673.2 160.7L674.2 160.7L675.2 160.7L676.2 160.7L677.2 160.7L678.2 160.6L679.2 160.6L680.2 160.6L681.2 160.6L682.2 160.6L683.2 160.5L684.2 160.5L685.2 160.5L686.2 160.5L687.2 160.5L688.2 160.4L689.2 160.4L690.2 160.4L691.2 160.4L692.2 160.4L693.2 160.4L694.2 160.4L695.2 160.3L696.2 160.3L697.2 160.3L698.2 160.3L699.2 160.3L700.2 160.3L701.2 160.3L702.2 160.2L703.2 160.2L704.2 160.2L705.2 160.2L706.2 160.2L707.2 160.2L708.2 160.2L709.2 160.2L710.2 160.2L711.2 160.1L712.2 160.1L713.2 160.1L714.2 160.1L715.2 160.1L716.2 160.1L717.2 160.1L718.2 160.1L719.2 160.1L720.2 160.1L721.2 160.0L722.2 160.0L723.2 160.0L724.2 160.0L725.2 160.0L726.2 160.0L727.2 160.0L728.2 160.0L729.2 160.0L730.2 160.0L731.2 159.9L732.2 159.9L733.2 159.9L734.2 159.9L735.2 159.9L736.2 159.9L737.2 159.9L738.2 159.9L739.2 159.9L740.2 159.9L741.2 159.8L742.2 159.8L743.2 159.8L744.2 159.8L745.2 159.8L746.2 159.8L747.3 159.8L748.3 159.8L749.3 159.8L750.3 159.8L751.3 159.8L752.3 159.8L753.3 159.7L754.3 159.7L755.3 159.7L756.3 159.7L757.3 159.7L758.3 159.7L759.3 159.7L760.3 159.7L761.3 159.7L762.3 159.7L763.3 159.7L764.3 159.7L765.3 159.7L766.3 159.7L767.3 159.6L768.3 159.6L769.3 159.6L770.3 159.6L771.3 159.6L772.3 159.6L773.3 159.6L774.3 159.6L775.3 159.6L776.3 159.6L777.3 159.6L778.3 159.6L779.3 159.6L780.3 159.6L781.3 159.6L782.3 159.6L783.3 159.6L784.3 159.6L785.3 159.5L786.3 159.5L787.3 159.5L788.3 159.5L789.3 159.5L790.3 159.5L791.3 159.5L792.3 159.5L793.3 159.5L794.3 159.5L795.3 159.5L796.3 159.5L797.3 159.5L798.3 159.5L799.3 159.5L800.3 159.5L801.3 159.5L802.3 159.5L803.3 159.5L804.3 159.5L805.3 159.5L806.3 159.5L807.3 159.5L808.3 159.5L809.3 159.5L810.3 159.5L811.3 159.5L812.3 159.5L813.3 159.5L814.3 159.5L815.3 159.5L816.3 159.5L817.3 159.5L818.3 159.5L819.4 159.5L820.4 159.5L821.4 159.5L822.4 159.5L823.4 159.5L824.4 159.5L825.4 159.5L826.4 159.5L827.4 159.5L828.4 159.5L829.4 159.5L830.4 159.5L831.4 159.5L832.4 159.6L833.4 159.6L834.4 159.6L835.4 159.6L836.4 159.6L837.4 159.6L838.4 159.6L839.4 159.6L840.4 159.6L841.4 159.6L842.4 159.6L843.4 159.6L844.4 159.6L845.4 159.6L846.4 159.7L847.4 159.7L848.4 159.7L849.4 159.7L850.4 159.8L851.4 159.8L852.4 159.8L853.4 159.9L854.4 159.9L855.4 160.0L856.4 160.0L857.4 160.0L858.4 160.1L859.4 160.1L860.4 160.2L861.4 160.2L862.4 160.3L863.4 160.3L864.4 160.4L865.4 160.4L866.4 160.5L867.4 160.5L868.4 160.6L869.4 160.6L870.4 160.6L871.4 160.7L872.4 160.7L873.4 160.8L874.4 160.8L875.4 160.8L876.4 160.9L877.4 160.9L878.4 160.9L879.4 161.0L880.4 161.0L881.4 161.0L882.4 161.0L883.4 161.1L884.4 161.1L885.4 161.1L886.4 161.1L887.4 161.1L888.4 161.2L889.4 161.2L890.4 161.2" stroke="#007f00" stroke-width="2.4"/>
<path d="M890.4 161.2L891.4 161.2L892.4 161.3L893.4 161.3L894.4 161.3L895.4 161.4L896.4 161.4L897.4 161.4L898.4 161.4L899.4 161.5L900.4 161.5L901.4 161.5L902.4 161.6L903.4 161.6L904.4 161.6L905.4 161.7L906.4 161.7L907.4 161.7L908.4 161.8L909.4 161.8L910.4 161.8L911.4 161.9L912.4 161.9L913.4 161.9L914.5 162.0L915.5 162.0L916.5 162.1L917.5 162.1L918.5 162.1L919.5 162.2L920.5 162.2L921.5 162.3L922.5 162.3L923.5 162.4L924.5 162.4L925.4 162.5L926.4 162.5L927.4 162.6L928.4 162.6L929.4 162.7L930.4 162.8L931.4 162.8L932.4 162.9L933.4 163.0L934.4 163.1L935.4 163.2L936.4 163.3L937.4 163.4L938.4 163.5L939.4 163.6L940.4 163.7L941.4 163.8L942.4 163.9L943.4 164.0L944.4 164.2L945.4 164.3L946.4 164.4L947.4 164.5L948.4 164.7L949.4 164.8L950.3 164.9L951.3 165.0L952.3 165.2L953.3 165.3L954.3 165.4L955.3 165.6L956.3 165.7L957.3 165.8L958.3 165.9L959.3 166.1L960.3 166.2L961.3 166.3L962.3 166.4L963.3 166.5L964.3 166.7L965.3 166.8L966.3 166.9L967.3 167.0L968.2 167.1L969.2 167.3L970.2 167.4L971.2 167.5L972.2 167.7L973.2 167.8L974.2 167.9L975.2 168.0L976.2 168.2L977.2 168.3L978.2 168.4L979.2 168.6L980.2 168.7L981.2 168.8L982.2 169.0L983.1 169.1L984.1 169.2L985.1 169.3L986.1 169.5L987.1 169.6L988.1 169.7L989.1 169.8L990.1 170.0L991.1 170.1L992.1 170.2L993.1 170.3L994.1 170.4L995.1 170.5L996.1 170.7L997.1 170.8L998.1 170.9L999.0 171.0L1000.0 171.1L1001.0 171.2L1002.0 171.3L1003.0 171.5L1004.0 171.6L1005.0 171.7L1006.0 171.8L1007.0 171.9L1008.0 172.0L1009.0 172.2L1010.0 172.3L1011.0 172.4L1012.0 172.5L1013.0 172.6L1014.0 172.7L1015.0 172.8L1016.0 172.9L1017.0 173.0L1018.0 173.1L1019.0 173.2L1020.0 173.3L1021.0 173.4L1022.0 173.5L1023.0 173.6L1024.0 173.7L1025.0 173.8L1025.9 173.8L1026.9 173.9L1027.9 174.0L1028.9 174.0L1029.9 174.1L1030.9 174.1L1031.9 174.2L1032.9 174.2L1033.9 174.2L1034.9 174.3L1035.9 174.3L1036.9 174.4L1037.9 174.4L1038.9 174.4L1039.9 174.5L1040.9 174.5L1041.9 174.6L1042.9 174.6L1043.9 174.6L1044.9 174.7L1045.9 174.7L1046.9 174.7L1047.9 174.8L1049.0 174.8L1050.0 174.8L1051.0 174.9L1052.0 174.9L1053.0 174.9L1054.0 174.9L1055.0 174.9L1056.0 175.0L1057.0 175.0L1058.0 175.0L1059.0 175.0L1060.0 175.0L1061.0 175.0L1062.0 175.0L1063.0 175.0L1064.0 175.0L1065.0 175.0L1066.0 175.0L1067.0 175.0L1068.0 175.0L1069.0 175.0L1070.0 175.0L1071.0 175.0L1072.0 175.0L1073.0 175.0L1074.0 175.0L1075.0 175.0L1076.0 175.0L1077.0 175.0L1078.0 174.9L1079.0 174.9L1080.0 174.9L1081.0 174.9L1082.0 174.9L1083.0 174.9L1084.0 174.9L1085.0 174.9L1086.0 174.9L1087.0 174.9L1088.0 174.9L1089.0 174.8L1090.0 174.8L1091.0 174.8L1092.0 174.8L1093.0 174.8L1094.0 174.8L1095.0 174.7L1096.0 174.7L1097.0 174.6L1098.0 174.5L1099.0 174.4L1100.0 174.3L1101.0 174.1L1102.0 174.0L1103.0 173.8L1104.0 173.6L1104.9 173.5L1105.9 173.3L1106.9 173.1L1107.9 172.9L1108.9 172.8L1109.9 172.6L1110.9 172.4L1111.9 172.2L1112.8 172.0L1113.8 171.8L1114.8 171.7L1115.8 171.5L1116.8 171.3L1117.8 171.1L1118.7 170.9L1119.7 170.6L1120.7 170.4L1121.7 170.2L1122.6 170.0L1123.6 169.7L1124.6 169.5L1125.6 169.2L1126.5 169.0L1127.5 168.7L1128.5 168.5L1129.4 168.2L1130.4 168.0L1131.4 167.7L1132.3 167.4L1133.3 167.2L1134.3 166.9L1135.3 166.7L1136.3 166.4L1137.3 166.1L1138.2 165.8L1139.2 165.6L1140.2 165.3L1141.1 165.0L1142.1 164.6L1143.0 164.3L1144.0 164.0L1144.9 163.6L1145.8 163.3L1146.7 162.9L1147.6 162.5L1148.5 162.1L1149.3 161.6L1150.2 161.1L1151.0 160.6L1151.9 160.0L1152.7 159.4L1153.5 158.8L1154.3 158.1L1155.1 157.5L1155.9 156.8L1156.6 156.1L1157.3 155.4L1158.0 154.8L1158.7 154.1L1159.4 153.3L1160.0 152.6L1160.6 151.8L1161.2 151.0L1161.8 150.2L1162.4 149.3L1162.9 148.5L1163.5 147.6L1164.1 146.8L1164.6 145.9L1165.2 145.1L1165.8 144.3L1166.4 143.5L1167.0 142.7L1167.6 141.9L1168.3 141.1L1168.9 140.4L1169.6 139.7L1170.3 139.0L1171.0 138.2L1171.8 137.5L1172.5 136.8L1173.3 136.2L1174.1 135.5L1174.8 134.9L1175.6 134.4L1176.4 133.8L1177.3 133.3L1178.1 132.8L1179.0 132.3L1179.9 131.9L1180.8 131.4L1181.7 130.9L1182.6 130.5L1183.5 130.1L1184.4 129.6L1185.3 129.2L1186.2 128.7L1187.1 128.3L1188.0 127.8L1188.9 127.3L1189.8 126.9L1190.7 126.4L1191.5 125.9L1192.4 125.4L1193.3 124.9L1194.2 124.4L1195.1 123.9L1195.9 123.5L1196.8 123.0L1197.7 122.5L1198.5 122.0L1199.4 121.5L1200.3 121.0L1201.1 120.4L1202.0 119.9L1202.8 119.4L1203.7 118.9L1204.5 118.3L1205.3 117.7L1206.2 117.1L1207.0 116.5L1207.8 115.9L1208.7 115.4L1209.5 114.9L1210.4 114.4L1211.3 114.0L1212.2 113.6L1213.2 113.2L1214.1 112.9L1215.1 112.7L1216.1 112.7L1217.1 112.9L1218.2 113.2L1219.1 113.6L1219.9 114.0L1220.6 114.5L1221.2 115.1L1221.7 115.9L1222.3 116.8L1222.8 117.7L1223.2 118.7L1223.7 119.7L1224.1 120.7L1224.5 121.7L1224.9 122.7L1225.3 123.6L1225.6 124.5L1226.0 125.5L1226.3 126.4L1226.7 127.3L1227.0 128.3L1227.3 129.3L1227.6 130.2L1227.9 131.2L1228.2 132.2L1228.4 133.1L1228.7 134.1L1228.9 135.1L1229.2 136.0L1229.4 137.0L1229.6 138.0L1229.8 139.0L1230.0 140.0L1230.2 140.9L1230.3 141.9L1230.5 142.9L1230.7 143.9L1230.8 144.9L1231.0 145.9L1231.1 146.9L1231.3 147.9L1231.4 148.9L1231.6 149.8L1231.7 150.8L1231.9 151.8L1232.0 152.8L1232.1 153.8L1232.2 154.8L1232.3 155.8L1232.4 156.8L1232.5 157.9L1232.6 158.9L1232.7 159.9L1232.8 160.9L1232.9 161.9L1232.9 162.9L1233.0 163.9L1233.1 164.9L1233.3 165.9L1233.4 166.9L1233.5 167.9L1233.7 168.8L1233.9 169.8L1234.0 170.7L1234.3 171.8L1234.7 173.0L1235.2 174.0L1235.7 174.4L1236.3 174.0L1236.9 173.0L1237.4 171.9L1237.7 171.0L1237.9 170.0L1238.1 169.0L1238.3 167.9L1238.5 166.9L1238.6 165.8L1238.8 164.8L1239.0 163.9L1239.3 163.0L1239.7 162.2L1240.3 161.4L1241.2 160.7L1242.2 160.4L1243.1 160.4L1244.1 160.4L1245.2 160.4L1246.2 160.4L1247.0 160.5L1247.8 161.0L1248.6 161.8L1249.3 162.7L1250.0 163.4L1250.8 164.1L1251.6 164.8L1252.3 165.5L1253.0 166.2L1253.5 167.0L1253.9 167.9L1254.3 168.9L1254.6 169.9L1254.9 170.9L1255.3 171.8L1255.8 172.6L1256.5 173.3L1257.3 173.9L1258.2 174.4" stroke="#007f00" stroke-width="3.1"/>
</g>
<g stroke="#000" fill="none">
<line x1="929.4" y1="208.9" x2="929.4" y2="448.7" stroke-width="2.9" stroke-dasharray="9.4 5.2"/>
<line x1="923" y1="525" x2="923" y2="879.6" stroke-width="1.9" stroke-dasharray="9.4 5.2"/>
<line x1="1214.5" y1="85.1" x2="1214.5" y2="634.7" stroke-width="2.9" stroke-dasharray="9.4 5.2"/>
<line x1="1246.5" y1="129" x2="1246.5" y2="878.1" stroke-width="2.9" stroke-dasharray="9.4 5.2"/>
</g>
<line x1="919.7" y1="199.9" x2="901.7" y2="160.4" stroke="#000" stroke-width="2.9"/><polygon points="890.1,135.1 909.2,158.1 895.0,164.5" fill="#000"/>
<line x1="904.1" y1="549.0" x2="888.7" y2="523.1" stroke="#000" stroke-width="2.9"/><polygon points="874.5,499.2 895.9,520.0 882.5,527.9" fill="#000"/>
<line x1="1203.8" y1="108.4" x2="1178.4" y2="96.4" stroke="#000" stroke-width="2.9"/><polygon points="1154.0,84.8 1182.8,89.5 1175.8,104.1" fill="#000"/>
<line x1="1246.9" y1="120.9" x2="1237.5" y2="94.4" stroke="#000" stroke-width="2.9"/><polygon points="1228.4,69.0 1245.2,92.7 1230.4,98.0" fill="#000"/>
<g fill="#000" shape-rendering="crispEdges">
<rect x="95" y="27" width="4" height="921"/>
<rect x="95" y="27" width="1165" height="4"/>
<rect x="1257" y="27" width="3" height="921"/>
<rect x="95" y="944" width="1165" height="4"/>
</g>
<g fill="#000">
<rect x="95" y="946" width="4" height="23.5"/>
<rect x="256" y="946" width="4" height="23.5"/>
<rect x="418" y="946" width="4" height="23.5"/>
<rect x="579" y="946" width="4" height="23.5"/>
<rect x="740" y="946" width="4" height="23.5"/>
<rect x="901" y="946" width="4" height="23.5"/>
<rect x="1063" y="946" width="4" height="23.5"/>
<rect x="1224" y="946" width="4" height="23.5"/>
<rect x="176" y="946" width="3" height="12.5"/>
<rect x="337" y="946" width="3" height="12.5"/>
<rect x="499" y="946" width="3" height="12.5"/>
<rect x="660" y="946" width="3" height="12.5"/>
<rect x="821" y="946" width="3" height="12.5"/>
<rect x="983" y="946" width="3" height="12.5"/>
<rect x="1144" y="946" width="3" height="12.5"/>
</g>
<g font-family="'Liberation Serif', serif" fill="#000" style="font-kerning:none">
<g font-size="41.8" text-anchor="middle">
<text x="97.8" y="1013.6">4000</text>
<text x="259.1" y="1013.6">3500</text>
<text x="420.4" y="1013.6">3000</text>
<text x="581.7" y="1013.6">2500</text>
<text x="743.0" y="1013.6">2000</text>
<text x="904.2" y="1013.6">1500</text>
<text x="1065.5" y="1013.6">1000</text>
<text x="1226.8" y="1013.6">500</text>
</g>
<g font-size="36.8">
<text x="319.4" y="144.2">BTO<tspan dy="3.7">_</tspan><tspan dy="-3.7">RHSE</tspan><tspan dy="3.7">_</tspan><tspan dy="-3.7">1000</tspan></text>
<text x="321.4" y="244.0">BTO<tspan dy="3.7">_</tspan><tspan dy="-3.7">RHSE</tspan><tspan dy="3.7">_</tspan><tspan dy="-3.7">900</tspan></text>
<text x="318.0" y="344.0">BTO<tspan dy="3.7">_</tspan><tspan dy="-3.7">RHSE</tspan><tspan dy="3.7">_</tspan><tspan dy="-3.7">800</tspan></text>
<text x="317.3" y="412.1">BTO<tspan dy="3.7">_</tspan><tspan dy="-3.7">RHSE</tspan><tspan dy="3.7">_</tspan><tspan dy="-3.7">700</tspan></text>
<text x="318.7" y="557.8">BTO<tspan dy="3.7">_</tspan><tspan dy="-3.7">Ref</tspan><tspan dy="3.7">_</tspan><tspan dy="-3.7">T</tspan></text>
<text x="318.7" y="829.3">BTO<tspan dy="3.7">_</tspan><tspan dy="-3.7">Ref</tspan><tspan dy="3.7">_</tspan><tspan dy="-3.7">C</tspan></text>
</g>
<g font-size="41.4">
<text x="738.8" y="113.7" font-size="41.2">Acetate groups</text>
<text x="790.7" y="491.5" font-size="41.7">BaCO<tspan font-size="31" dy="13.9">3</tspan></text>
<text x="1062.3" y="92.3" font-size="40.8">Ti-O</text>
<text x="1160.8" y="64.6" font-size="41.9">Ba-O</text>
</g>
<g font-size="41" font-weight="bold">
<text x="497.4" y="1076.6">Wavenumber (cm<tspan x="809.8" y="1060.8" font-size="36" stroke="#000" stroke-width="1.4">−</tspan><tspan x="828.6" y="1056.7" font-size="31">1</tspan><tspan x="844.5" y="1076.6">)</tspan></text>
<text transform="translate(53.6 628.6) rotate(-90)">Absorbance (a.u.)</text>
</g>
</g>
</svg>
</body>
</html>
